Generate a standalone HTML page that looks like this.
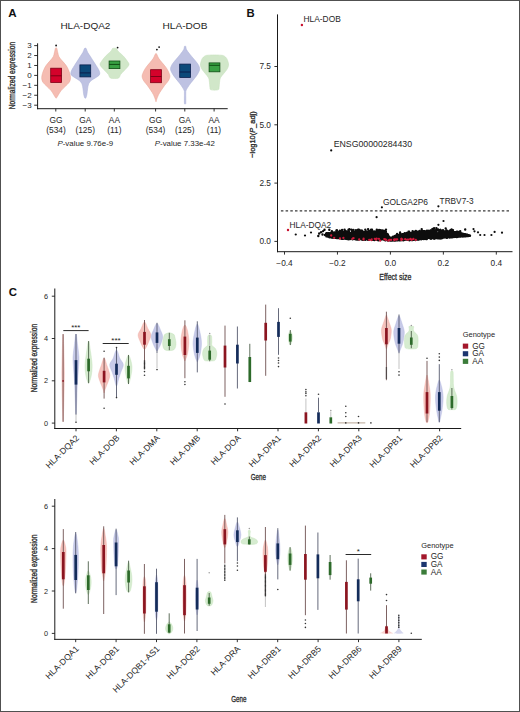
<!DOCTYPE html>
<html><head><meta charset="utf-8"><style>
html,body{margin:0;padding:0;background:#fff;}
body{width:520px;height:712px;overflow:hidden;}
svg{display:block;}
svg text{font-family:"Liberation Sans",sans-serif;}
</style></head><body>
<svg width="520" height="712" viewBox="0 0 520 712">
<rect x="0" y="0" width="520" height="712" fill="#fff"/>
<text x="8.20" y="16.60" font-size="11.6" fill="#111" font-weight="bold">A</text>
<text x="60.40" y="29.20" font-size="9.6" fill="#262626" textLength="50.00" lengthAdjust="spacingAndGlyphs">HLA-DQA2</text>
<text x="162.50" y="29.20" font-size="9.6" fill="#262626" textLength="45.00" lengthAdjust="spacingAndGlyphs">HLA-DOB</text>
<path d="M56.10,47.80 C56.37,47.80 56.62,47.80 56.90,48.60 C57.18,49.40 57.45,51.23 57.80,52.60 C58.15,53.97 58.23,55.38 59.00,56.80 C59.77,58.22 61.23,59.68 62.40,61.10 C63.57,62.52 65.02,63.90 66.00,65.30 C66.98,66.70 67.67,68.10 68.30,69.50 C68.93,70.90 69.43,72.30 69.80,73.70 C70.17,75.10 70.57,76.50 70.50,77.90 C70.43,79.30 70.25,80.70 69.40,82.10 C68.55,83.50 66.77,84.90 65.40,86.30 C64.03,87.70 62.37,89.08 61.20,90.50 C60.03,91.92 59.15,93.62 58.40,94.80 C57.65,95.98 57.08,97.02 56.70,97.60 C56.32,98.18 56.30,98.30 56.10,98.30 C55.90,98.30 55.88,98.18 55.50,97.60 C55.12,97.02 54.55,95.98 53.80,94.80 C53.05,93.62 52.17,91.92 51.00,90.50 C49.83,89.08 48.17,87.70 46.80,86.30 C45.43,84.90 43.65,83.50 42.80,82.10 C41.95,80.70 41.77,79.30 41.70,77.90 C41.63,76.50 42.03,75.10 42.40,73.70 C42.77,72.30 43.27,70.90 43.90,69.50 C44.53,68.10 45.22,66.70 46.20,65.30 C47.18,63.90 48.63,62.52 49.80,61.10 C50.97,59.68 52.43,58.22 53.20,56.80 C53.97,55.38 54.05,53.97 54.40,52.60 C54.75,51.23 55.02,49.40 55.30,48.60 C55.58,47.80 55.83,47.80 56.10,47.80Z" fill="#f5bcb2" stroke="#e9a293" stroke-width="0.5"/>
<path d="M85.30,48.00 C85.63,48.00 85.88,48.03 86.30,48.80 C86.72,49.57 87.08,51.27 87.80,52.60 C88.52,53.93 89.68,55.38 90.60,56.80 C91.52,58.22 92.40,59.68 93.30,61.10 C94.20,62.52 95.12,63.90 96.00,65.30 C96.88,66.70 97.97,68.23 98.60,69.50 C99.23,70.77 99.73,71.92 99.80,72.90 C99.87,73.88 99.73,74.57 99.00,75.40 C98.27,76.23 96.67,77.07 95.40,77.90 C94.13,78.73 92.52,79.42 91.40,80.40 C90.28,81.38 89.33,82.38 88.70,83.80 C88.07,85.22 87.88,87.22 87.60,88.90 C87.32,90.58 87.25,92.48 87.00,93.90 C86.75,95.32 86.38,96.67 86.10,97.40 C85.82,98.13 85.57,98.30 85.30,98.30 C85.03,98.30 84.78,98.13 84.50,97.40 C84.22,96.67 83.85,95.32 83.60,93.90 C83.35,92.48 83.28,90.58 83.00,88.90 C82.72,87.22 82.53,85.22 81.90,83.80 C81.27,82.38 80.32,81.38 79.20,80.40 C78.08,79.42 76.47,78.73 75.20,77.90 C73.93,77.07 72.33,76.23 71.60,75.40 C70.87,74.57 70.73,73.88 70.80,72.90 C70.87,71.92 71.37,70.77 72.00,69.50 C72.63,68.23 73.72,66.70 74.60,65.30 C75.48,63.90 76.40,62.52 77.30,61.10 C78.20,59.68 79.08,58.22 80.00,56.80 C80.92,55.38 82.08,53.93 82.80,52.60 C83.52,51.27 83.88,49.57 84.30,48.80 C84.72,48.03 84.97,48.00 85.30,48.00Z" fill="#bec2e2" stroke="#aab0d8" stroke-width="0.5"/>
<path d="M114.50,48.20 C115.17,48.20 115.93,48.03 116.50,48.50 C117.07,48.97 117.07,50.03 117.90,51.00 C118.73,51.97 120.48,53.33 121.50,54.30 C122.52,55.27 123.03,55.67 124.00,56.80 C124.97,57.93 126.47,59.83 127.30,61.10 C128.13,62.37 129.07,63.28 129.00,64.40 C128.93,65.52 127.80,66.67 126.90,67.80 C126.00,68.93 124.65,70.08 123.60,71.20 C122.55,72.32 121.28,73.52 120.60,74.50 C119.92,75.48 119.93,76.48 119.50,77.10 C119.07,77.72 118.83,77.97 118.00,78.20 C117.17,78.43 115.67,78.50 114.50,78.50 C113.33,78.50 111.83,78.43 111.00,78.20 C110.17,77.97 109.93,77.72 109.50,77.10 C109.07,76.48 109.08,75.48 108.40,74.50 C107.72,73.52 106.45,72.32 105.40,71.20 C104.35,70.08 103.00,68.93 102.10,67.80 C101.20,66.67 100.07,65.52 100.00,64.40 C99.93,63.28 100.87,62.37 101.70,61.10 C102.53,59.83 104.03,57.93 105.00,56.80 C105.97,55.67 106.48,55.27 107.50,54.30 C108.52,53.33 110.27,51.97 111.10,51.00 C111.93,50.03 111.93,48.97 112.50,48.50 C113.07,48.03 113.83,48.20 114.50,48.20Z" fill="#d1e7c9" stroke="#c2dfb8" stroke-width="0.5"/>
<path d="M156.00,53.40 C156.30,53.40 156.45,53.68 156.90,54.50 C157.35,55.32 157.82,56.92 158.70,58.30 C159.58,59.68 160.98,61.28 162.20,62.80 C163.42,64.32 164.93,65.87 166.00,67.40 C167.07,68.93 167.95,70.48 168.60,72.00 C169.25,73.52 169.98,74.98 169.90,76.50 C169.82,78.02 169.02,79.57 168.10,81.10 C167.18,82.63 165.53,84.18 164.40,85.70 C163.27,87.22 162.28,88.68 161.30,90.20 C160.32,91.72 159.27,93.27 158.50,94.80 C157.73,96.33 157.12,98.23 156.70,99.40 C156.28,100.57 156.23,101.80 156.00,101.80 C155.77,101.80 155.72,100.57 155.30,99.40 C154.88,98.23 154.27,96.33 153.50,94.80 C152.73,93.27 151.68,91.72 150.70,90.20 C149.72,88.68 148.73,87.22 147.60,85.70 C146.47,84.18 144.82,82.63 143.90,81.10 C142.98,79.57 142.18,78.02 142.10,76.50 C142.02,74.98 142.75,73.52 143.40,72.00 C144.05,70.48 144.93,68.93 146.00,67.40 C147.07,65.87 148.58,64.32 149.80,62.80 C151.02,61.28 152.42,59.68 153.30,58.30 C154.18,56.92 154.65,55.32 155.10,54.50 C155.55,53.68 155.70,53.40 156.00,53.40Z" fill="#f5bcb2" stroke="#e9a293" stroke-width="0.5"/>
<path d="M185.10,45.90 C185.37,45.90 185.67,46.18 185.90,46.80 C186.13,47.42 185.83,48.35 186.50,49.60 C187.17,50.85 188.67,52.72 189.90,54.30 C191.13,55.88 192.58,57.50 193.90,59.10 C195.22,60.70 196.83,62.30 197.80,63.90 C198.77,65.50 199.67,67.12 199.70,68.70 C199.73,70.28 198.83,71.82 198.00,73.40 C197.17,74.98 195.90,76.60 194.70,78.20 C193.50,79.80 192.00,81.40 190.80,83.00 C189.60,84.60 188.28,86.53 187.50,87.80 C186.72,89.07 186.38,89.73 186.10,90.60 C185.82,91.47 185.85,90.93 185.80,93.00 C185.75,95.07 185.92,101.20 185.80,103.00 C185.68,104.80 185.33,103.80 185.10,103.80 C184.87,103.80 184.52,104.80 184.40,103.00 C184.28,101.20 184.45,95.07 184.40,93.00 C184.35,90.93 184.38,91.47 184.10,90.60 C183.82,89.73 183.48,89.07 182.70,87.80 C181.92,86.53 180.60,84.60 179.40,83.00 C178.20,81.40 176.70,79.80 175.50,78.20 C174.30,76.60 173.03,74.98 172.20,73.40 C171.37,71.82 170.47,70.28 170.50,68.70 C170.53,67.12 171.43,65.50 172.40,63.90 C173.37,62.30 174.98,60.70 176.30,59.10 C177.62,57.50 179.07,55.88 180.30,54.30 C181.53,52.72 183.03,50.85 183.70,49.60 C184.37,48.35 184.07,47.42 184.30,46.80 C184.53,46.18 184.83,45.90 185.10,45.90Z" fill="#bec2e2" stroke="#aab0d8" stroke-width="0.5"/>
<path d="M214.50,54.90 C216.67,54.90 219.40,55.03 221.00,55.20 C222.60,55.37 223.15,55.37 224.10,55.90 C225.05,56.43 226.08,57.53 226.70,58.40 C227.32,59.27 227.48,59.95 227.80,61.10 C228.12,62.25 228.75,63.90 228.60,65.30 C228.45,66.70 227.73,68.10 226.90,69.50 C226.07,70.90 224.68,72.30 223.60,73.70 C222.52,75.10 221.07,76.50 220.40,77.90 C219.73,79.30 219.82,80.55 219.60,82.10 C219.38,83.65 219.28,85.95 219.10,87.20 C218.92,88.45 219.27,89.10 218.50,89.60 C217.73,90.10 215.83,90.20 214.50,90.20 C213.17,90.20 211.27,90.10 210.50,89.60 C209.73,89.10 210.08,88.45 209.90,87.20 C209.72,85.95 209.62,83.65 209.40,82.10 C209.18,80.55 209.27,79.30 208.60,77.90 C207.93,76.50 206.48,75.10 205.40,73.70 C204.32,72.30 202.93,70.90 202.10,69.50 C201.27,68.10 200.55,66.70 200.40,65.30 C200.25,63.90 200.88,62.25 201.20,61.10 C201.52,59.95 201.68,59.27 202.30,58.40 C202.92,57.53 203.95,56.43 204.90,55.90 C205.85,55.37 206.40,55.37 208.00,55.20 C209.60,55.03 212.33,54.90 214.50,54.90Z" fill="#d1e7c9" stroke="#c2dfb8" stroke-width="0.5"/>
<rect x="50.70" y="68.20" width="10.80" height="14.30" fill="#d4022b" stroke="#7d0015" stroke-width="0.8"/>
<line x1="50.70" y1="75.80" x2="61.50" y2="75.80" stroke="#7d0015" stroke-width="1.0"/>
<circle cx="56.10" cy="45.50" r="0.90" fill="#111"/>
<rect x="79.90" y="64.90" width="10.80" height="12.00" fill="#0b4979" stroke="#0b1f4c" stroke-width="0.8"/>
<line x1="79.90" y1="72.90" x2="90.70" y2="72.90" stroke="#0b1f4c" stroke-width="1.0"/>
<rect x="109.10" y="61.00" width="10.80" height="7.60" fill="#38a043" stroke="#0e4b13" stroke-width="0.8"/>
<line x1="109.10" y1="64.40" x2="119.90" y2="64.40" stroke="#0e4b13" stroke-width="1.0"/>
<circle cx="117.60" cy="47.60" r="0.90" fill="#111"/>
<rect x="150.60" y="69.70" width="10.80" height="13.00" fill="#d4022b" stroke="#7d0015" stroke-width="0.8"/>
<line x1="150.60" y1="76.50" x2="161.40" y2="76.50" stroke="#7d0015" stroke-width="1.0"/>
<circle cx="156.90" cy="49.60" r="0.90" fill="#111"/>
<circle cx="159.10" cy="47.10" r="0.90" fill="#111"/>
<rect x="179.70" y="64.10" width="10.80" height="13.30" fill="#0b4979" stroke="#0b1f4c" stroke-width="0.8"/>
<line x1="179.70" y1="72.00" x2="190.50" y2="72.00" stroke="#0b1f4c" stroke-width="1.0"/>
<rect x="209.10" y="62.90" width="10.80" height="8.90" fill="#38a043" stroke="#0e4b13" stroke-width="0.8"/>
<line x1="209.10" y1="65.30" x2="219.90" y2="65.30" stroke="#0e4b13" stroke-width="1.0"/>
<line x1="37.60" y1="43.30" x2="37.60" y2="109.20" stroke="#1a1a1a" stroke-width="1.0"/>
<line x1="37.10" y1="108.70" x2="227.70" y2="108.70" stroke="#1a1a1a" stroke-width="1.0"/>
<line x1="34.20" y1="45.61" x2="37.60" y2="45.61" stroke="#1a1a1a" stroke-width="0.9"/>
<text x="31.60" y="48.46" font-size="8" fill="#262626" text-anchor="end">3</text>
<line x1="34.20" y1="55.54" x2="37.60" y2="55.54" stroke="#1a1a1a" stroke-width="0.9"/>
<text x="31.60" y="58.39" font-size="8" fill="#262626" text-anchor="end">2</text>
<line x1="34.20" y1="65.47" x2="37.60" y2="65.47" stroke="#1a1a1a" stroke-width="0.9"/>
<text x="31.60" y="68.32" font-size="8" fill="#262626" text-anchor="end">1</text>
<line x1="34.20" y1="75.40" x2="37.60" y2="75.40" stroke="#1a1a1a" stroke-width="0.9"/>
<text x="31.60" y="78.25" font-size="8" fill="#262626" text-anchor="end">0</text>
<line x1="34.20" y1="85.33" x2="37.60" y2="85.33" stroke="#1a1a1a" stroke-width="0.9"/>
<text x="31.60" y="88.18" font-size="8" fill="#262626" text-anchor="end">−1</text>
<line x1="34.20" y1="95.26" x2="37.60" y2="95.26" stroke="#1a1a1a" stroke-width="0.9"/>
<text x="31.60" y="98.11" font-size="8" fill="#262626" text-anchor="end">−2</text>
<line x1="34.20" y1="105.19" x2="37.60" y2="105.19" stroke="#1a1a1a" stroke-width="0.9"/>
<text x="31.60" y="108.04" font-size="8" fill="#262626" text-anchor="end">−3</text>
<line x1="55.80" y1="108.70" x2="55.80" y2="111.50" stroke="#1a1a1a" stroke-width="0.9"/>
<line x1="85.20" y1="108.70" x2="85.20" y2="111.50" stroke="#1a1a1a" stroke-width="0.9"/>
<line x1="114.30" y1="108.70" x2="114.30" y2="111.50" stroke="#1a1a1a" stroke-width="0.9"/>
<line x1="155.60" y1="108.70" x2="155.60" y2="111.50" stroke="#1a1a1a" stroke-width="0.9"/>
<line x1="184.80" y1="108.70" x2="184.80" y2="111.50" stroke="#1a1a1a" stroke-width="0.9"/>
<line x1="214.10" y1="108.70" x2="214.10" y2="111.50" stroke="#1a1a1a" stroke-width="0.9"/>
<text x="56.00" y="122.70" font-size="8.4" fill="#262626" text-anchor="middle">GG</text>
<text x="56.00" y="133.30" font-size="8.4" fill="#262626" text-anchor="middle">(534)</text>
<text x="85.20" y="122.70" font-size="8.4" fill="#262626" text-anchor="middle">GA</text>
<text x="85.20" y="133.30" font-size="8.4" fill="#262626" text-anchor="middle">(125)</text>
<text x="114.40" y="122.70" font-size="8.4" fill="#262626" text-anchor="middle">AA</text>
<text x="114.40" y="133.30" font-size="8.4" fill="#262626" text-anchor="middle">(11)</text>
<text x="155.60" y="122.70" font-size="8.4" fill="#262626" text-anchor="middle">GG</text>
<text x="155.60" y="133.30" font-size="8.4" fill="#262626" text-anchor="middle">(534)</text>
<text x="184.80" y="122.70" font-size="8.4" fill="#262626" text-anchor="middle">GA</text>
<text x="184.80" y="133.30" font-size="8.4" fill="#262626" text-anchor="middle">(125)</text>
<text x="214.00" y="122.70" font-size="8.4" fill="#262626" text-anchor="middle">AA</text>
<text x="214.00" y="133.30" font-size="8.4" fill="#262626" text-anchor="middle">(11)</text>
<text x="85.3" y="145.6" font-size="7.9" text-anchor="middle" fill="#262626"><tspan font-style="italic">P</tspan>-value 9.76e-9</text>
<text x="184.8" y="145.6" font-size="7.9" text-anchor="middle" fill="#262626"><tspan font-style="italic">P</tspan>-value 7.33e-42</text>
<text x="15.20" y="75.60" font-size="9.0" fill="#262626" text-anchor="middle" textLength="67.50" lengthAdjust="spacingAndGlyphs" transform="rotate(-90 15.20 75.60)" stroke="#333" stroke-width="0.35">Normalized expression</text>
<text x="246.60" y="16.90" font-size="11.3" fill="#111" font-weight="bold">B</text>
<line x1="277.50" y1="14.40" x2="277.50" y2="252.20" stroke="#1a1a1a" stroke-width="1.0"/>
<line x1="277.00" y1="251.70" x2="512.50" y2="251.70" stroke="#1a1a1a" stroke-width="1.0"/>
<line x1="274.40" y1="241.40" x2="277.50" y2="241.40" stroke="#1a1a1a" stroke-width="0.9"/>
<text x="271.00" y="244.35" font-size="8.3" fill="#262626" text-anchor="end">0.0</text>
<line x1="274.40" y1="183.10" x2="277.50" y2="183.10" stroke="#1a1a1a" stroke-width="0.9"/>
<text x="271.00" y="186.05" font-size="8.3" fill="#262626" text-anchor="end">2.5</text>
<line x1="274.40" y1="124.80" x2="277.50" y2="124.80" stroke="#1a1a1a" stroke-width="0.9"/>
<text x="271.00" y="127.75" font-size="8.3" fill="#262626" text-anchor="end">5.0</text>
<line x1="274.40" y1="66.50" x2="277.50" y2="66.50" stroke="#1a1a1a" stroke-width="0.9"/>
<text x="271.00" y="69.45" font-size="8.3" fill="#262626" text-anchor="end">7.5</text>
<line x1="284.50" y1="251.70" x2="284.50" y2="254.60" stroke="#1a1a1a" stroke-width="0.9"/>
<text x="284.50" y="265.90" font-size="8.3" fill="#262626" text-anchor="middle">−0.4</text>
<line x1="337.45" y1="251.70" x2="337.45" y2="254.60" stroke="#1a1a1a" stroke-width="0.9"/>
<text x="337.45" y="265.90" font-size="8.3" fill="#262626" text-anchor="middle">−0.2</text>
<line x1="390.40" y1="251.70" x2="390.40" y2="254.60" stroke="#1a1a1a" stroke-width="0.9"/>
<text x="390.40" y="265.90" font-size="8.3" fill="#262626" text-anchor="middle">0.0</text>
<line x1="443.35" y1="251.70" x2="443.35" y2="254.60" stroke="#1a1a1a" stroke-width="0.9"/>
<text x="443.35" y="265.90" font-size="8.3" fill="#262626" text-anchor="middle">0.2</text>
<line x1="496.30" y1="251.70" x2="496.30" y2="254.60" stroke="#1a1a1a" stroke-width="0.9"/>
<text x="496.30" y="265.90" font-size="8.3" fill="#262626" text-anchor="middle">0.4</text>
<text x="395.30" y="279.80" font-size="9.8" fill="#262626" text-anchor="middle" textLength="32.00" lengthAdjust="spacingAndGlyphs" stroke="#333" stroke-width="0.35">Effect size</text>
<text x="255.0" y="134.6" font-size="8.0" text-anchor="middle" fill="#262626" transform="rotate(-90 255.0 134.6)" textLength="46.5" lengthAdjust="spacingAndGlyphs" stroke="#333" stroke-width="0.35">−log10(<tspan font-style="italic">P</tspan>_adj)</text>
<line x1="280.90" y1="210.90" x2="511.00" y2="210.90" stroke="#3a3a3a" stroke-width="1.4" stroke-dasharray="2.5,2.2"/>
<path d="M391.1 238.7h0M459.1 234.8h0M399.1 236.9h0M352.6 235.0h0M416.7 233.4h0M339.6 236.4h0M339.1 233.1h0M425.9 238.9h0M467.4 234.9h0M420.2 234.3h0M348.7 239.2h0M402.1 240.0h0M353.4 237.2h0M330.3 235.2h0M389.4 237.3h0M400.8 236.4h0M398.0 236.7h0M391.9 239.5h0M469.7 235.5h0M447.0 232.7h0M371.4 237.7h0M367.6 239.2h0M436.3 234.9h0M447.9 235.0h0M464.0 234.3h0M326.1 235.3h0M457.1 234.7h0M467.2 235.6h0M336.5 234.3h0M438.1 236.0h0M338.5 236.1h0M464.8 234.7h0M343.0 236.9h0M340.6 238.2h0M440.8 236.7h0M406.5 237.1h0M353.5 233.3h0M344.9 234.1h0M342.8 235.7h0M356.7 237.1h0M465.8 234.8h0M369.8 232.2h0M356.3 236.0h0M449.0 233.2h0M340.4 232.0h0M356.7 237.2h0M437.3 235.5h0M368.7 239.2h0M339.0 234.5h0M361.0 234.3h0M379.5 236.0h0M464.1 235.2h0M408.7 234.1h0M352.3 238.0h0M456.8 233.0h0M361.9 237.9h0M432.5 230.7h0M354.3 231.7h0M453.0 233.8h0M386.7 239.6h0M331.6 232.7h0M360.3 233.5h0M363.0 232.5h0M411.9 237.8h0M351.3 233.5h0M335.9 236.7h0M406.5 234.4h0M414.5 237.6h0M458.1 236.0h0M328.4 235.7h0M390.2 240.4h0M351.4 236.2h0M408.4 239.3h0M378.1 232.2h0M467.2 235.2h0M425.5 234.1h0M346.2 238.9h0M328.6 233.3h0M426.9 231.0h0M329.1 234.3h0M395.4 237.0h0M371.9 231.3h0M336.8 234.8h0M432.1 231.1h0M432.1 232.6h0M440.2 230.5h0M376.7 233.9h0M455.7 232.6h0M386.1 234.1h0M450.3 233.8h0M416.0 236.6h0M409.9 235.7h0M337.5 234.2h0M469.0 235.4h0M430.9 235.3h0M431.8 233.7h0M389.4 237.3h0M338.1 233.5h0M330.3 234.5h0M395.3 239.4h0M426.6 234.7h0M414.5 232.8h0M362.8 239.7h0M369.3 233.8h0M355.2 237.9h0M456.4 233.7h0M389.6 237.4h0M373.1 234.0h0M354.6 235.7h0M442.1 230.7h0M452.8 235.1h0M410.0 237.8h0M345.6 235.2h0M446.5 231.6h0M428.4 230.9h0M365.9 238.2h0M390.9 239.6h0M356.8 235.8h0M416.1 235.8h0M371.4 232.5h0M467.4 235.5h0M336.8 238.1h0M451.7 237.4h0M428.0 234.0h0M370.5 232.9h0M328.8 236.4h0M391.5 240.6h0M445.5 236.1h0M346.3 238.8h0M416.6 236.1h0M416.7 234.4h0M442.3 230.4h0M424.6 237.5h0M394.4 239.7h0M327.6 234.8h0M428.8 237.3h0M365.2 236.6h0M426.4 234.6h0M414.5 234.0h0M382.7 233.2h0M456.5 236.7h0M460.3 234.0h0M344.7 235.5h0M416.1 232.6h0M380.3 235.0h0M452.6 232.6h0M462.0 235.1h0M419.8 237.8h0M430.0 231.8h0M418.4 233.7h0M356.7 232.0h0M467.2 234.8h0M403.3 235.2h0M372.1 232.0h0M449.2 235.3h0M337.9 235.4h0M405.2 235.1h0M396.2 240.4h0M442.5 237.7h0M441.2 236.7h0M374.2 233.0h0M346.2 237.9h0M400.4 235.9h0M447.0 232.8h0M462.2 235.0h0M462.7 236.3h0M357.9 234.9h0M367.8 233.4h0M418.0 235.3h0M447.5 233.7h0M370.9 236.4h0M447.7 231.4h0M356.0 232.4h0M465.5 235.2h0M408.5 238.7h0M403.2 237.0h0M413.2 239.9h0M465.6 235.2h0M383.7 233.1h0M407.1 236.7h0M425.5 238.7h0M403.6 237.5h0M463.8 234.1h0M364.8 235.5h0M344.3 235.6h0M443.5 230.9h0M394.6 239.0h0M353.6 234.2h0M459.2 236.3h0M438.2 238.4h0M354.0 237.4h0M424.9 236.4h0M377.2 234.5h0M341.1 233.6h0M343.7 235.0h0M362.1 237.8h0M402.4 237.5h0M380.1 236.3h0M402.2 239.3h0M355.4 234.1h0M417.9 235.3h0M448.6 233.4h0M449.4 236.1h0M432.7 231.7h0M456.0 235.5h0M371.4 231.9h0M357.4 231.2h0M453.8 236.6h0M360.5 233.3h0M363.4 238.8h0M445.8 234.7h0M439.8 237.2h0M384.0 234.1h0M328.6 236.1h0M424.3 231.6h0M465.4 236.1h0M398.8 236.0h0M398.4 236.5h0M353.2 238.8h0M341.3 238.5h0M405.4 236.7h0M407.9 239.2h0M352.6 237.6h0M447.0 230.7h0M459.5 236.5h0M334.9 232.5h0M392.5 237.7h0M373.1 235.7h0M400.2 237.7h0M412.5 240.1h0M426.9 231.9h0M352.1 235.5h0M432.5 235.1h0M354.1 237.9h0M399.8 240.4h0M454.6 232.8h0M427.5 231.7h0M416.6 236.4h0M412.3 236.1h0M467.5 235.1h0M363.2 231.8h0M433.2 232.0h0M443.3 234.7h0M455.1 232.5h0M426.1 232.6h0M436.2 234.9h0M430.1 238.3h0M375.2 235.7h0M327.5 235.2h0M418.0 234.5h0M359.4 231.6h0M421.9 236.5h0M421.0 234.6h0M402.8 237.7h0M470.0 235.7h0M427.0 232.5h0M467.1 236.1h0M414.6 234.1h0M363.0 236.0h0M333.3 236.7h0M380.1 239.3h0M362.1 231.9h0M405.2 236.8h0M465.3 235.1h0M469.3 235.6h0M442.6 237.6h0M412.0 234.3h0M332.5 232.8h0M349.0 235.3h0M350.4 235.2h0M414.0 239.5h0M462.1 235.2h0M401.9 236.5h0M378.6 237.4h0M420.3 234.7h0M366.8 233.5h0M368.6 239.8h0M361.3 239.3h0M348.5 233.2h0M382.2 232.3h0M433.8 238.3h0M468.4 235.2h0M336.6 232.7h0M387.9 237.4h0M466.1 235.8h0M401.4 234.6h0M430.1 234.7h0M467.0 235.0h0M412.9 239.1h0M415.9 236.1h0M355.3 239.0h0M402.0 239.5h0M389.8 238.3h0M391.6 239.6h0M409.8 237.0h0M438.0 233.7h0M469.7 235.5h0M431.7 236.6h0M342.4 232.5h0M438.9 232.9h0M377.7 237.5h0M424.6 234.3h0M411.2 235.3h0M434.5 236.9h0M361.9 231.3h0M457.9 232.9h0M331.7 237.4h0M365.0 235.9h0M415.8 239.0h0M404.0 239.9h0M338.4 234.0h0M405.3 236.0h0M379.7 235.7h0M356.3 236.4h0M433.3 231.5h0M336.7 237.4h0M442.5 233.0h0M436.7 236.6h0M387.1 238.5h0M442.6 235.0h0M420.1 231.4h0M372.9 235.0h0M433.4 230.8h0M387.6 238.0h0M340.0 232.7h0M337.3 237.8h0M407.2 236.8h0M424.7 236.6h0M437.7 237.8h0M356.7 233.8h0M337.8 236.3h0M430.4 232.8h0M366.7 238.5h0M377.5 233.6h0M378.8 239.0h0M428.1 234.0h0M458.3 232.7h0M457.5 234.9h0M441.6 235.6h0M371.7 236.2h0M460.6 233.4h0M361.8 236.4h0M378.6 236.7h0M383.0 236.6h0M354.1 234.6h0M440.8 233.6h0M446.4 233.7h0M351.4 233.2h0M452.8 235.7h0M329.2 234.8h0M404.4 236.5h0M465.2 234.9h0M441.8 237.7h0M404.7 235.0h0M338.1 237.8h0M432.1 231.1h0M338.2 234.2h0M346.7 233.3h0M419.5 237.4h0M357.7 233.0h0M401.1 235.6h0M382.8 237.1h0M465.4 234.9h0M397.1 237.6h0M429.8 232.7h0M457.8 235.0h0M445.0 232.8h0M448.9 232.1h0M446.1 231.3h0M463.9 234.8h0M401.4 235.9h0M441.5 234.6h0M386.5 239.2h0M432.7 230.3h0M380.1 238.6h0M355.4 235.7h0M368.1 231.4h0M334.5 236.1h0M342.5 234.1h0M437.7 236.8h0M335.0 235.3h0M410.1 233.6h0M331.2 237.1h0M352.6 237.4h0M359.9 233.4h0M411.6 238.3h0M352.6 236.9h0M350.8 233.2h0M370.9 234.9h0M443.7 234.2h0M363.5 232.0h0M457.7 235.3h0M404.8 234.0h0M395.5 239.4h0M333.2 232.7h0M441.4 234.9h0M402.0 237.0h0M365.5 231.3h0M420.7 237.4h0M327.6 234.8h0M379.5 233.0h0M428.7 233.7h0M348.6 237.9h0M372.3 237.5h0M451.2 234.2h0M417.7 231.7h0M364.4 234.9h0M347.7 233.1h0M326.2 233.9h0M447.9 231.9h0M337.9 236.5h0M429.2 238.1h0M395.1 238.3h0M463.6 234.9h0M449.5 235.6h0M439.7 234.6h0M458.0 236.6h0M445.0 236.4h0M404.2 236.7h0M348.7 232.7h0M370.8 237.0h0M336.9 236.2h0M393.3 237.7h0M377.8 233.9h0M341.2 235.8h0M392.5 237.0h0M445.5 232.9h0M327.8 235.2h0M428.2 236.8h0M407.2 236.9h0M327.5 233.2h0M441.1 236.4h0M414.7 237.5h0M380.1 235.2h0M368.9 236.7h0M382.5 234.2h0M362.9 237.8h0M431.3 235.8h0M462.1 234.8h0M430.2 235.9h0M445.1 237.4h0M346.3 238.3h0M423.6 233.3h0M351.9 235.9h0M446.5 233.4h0M339.0 236.9h0M348.6 238.1h0M384.6 239.7h0M458.6 235.0h0M399.7 236.5h0M436.4 231.4h0M381.6 237.1h0M385.3 240.3h0M383.7 234.0h0M467.4 235.1h0M421.1 234.3h0M328.7 235.5h0M375.3 234.2h0M341.3 235.9h0M399.3 235.7h0M444.8 233.2h0M348.8 233.2h0M456.0 234.3h0M376.8 235.5h0M346.4 233.6h0M468.1 235.5h0M429.0 231.8h0M354.4 231.7h0M416.3 238.1h0M338.0 236.7h0M409.0 235.2h0M373.4 231.8h0M378.0 235.8h0M343.9 231.9h0M345.5 232.2h0M404.3 236.5h0M406.7 238.3h0M456.9 232.3h0M443.7 233.2h0M343.7 232.9h0M367.6 232.0h0M360.7 234.5h0M445.6 236.5h0M404.9 239.8h0M330.6 236.6h0M468.1 235.1h0M420.8 236.8h0M422.7 233.1h0M381.0 234.8h0M441.7 238.2h0M354.7 235.4h0M346.6 236.0h0M408.0 239.0h0M400.8 238.7h0M407.8 237.8h0M418.4 239.5h0M422.6 238.1h0M464.1 234.9h0M393.7 238.8h0M415.8 234.3h0M435.2 232.1h0M396.0 235.6h0M446.7 231.6h0M384.9 236.3h0M407.5 234.0h0M401.7 237.0h0M388.2 235.4h0M372.2 239.5h0M430.5 231.2h0M431.4 233.5h0M434.3 235.9h0M411.5 239.6h0M343.9 235.5h0M398.4 238.1h0M333.5 234.0h0M401.8 238.8h0M370.1 236.2h0M360.0 239.0h0M457.2 232.4h0M421.9 232.2h0M386.7 234.5h0M357.9 233.1h0M407.6 234.0h0M340.2 233.2h0M343.8 234.8h0M462.9 236.6h0M361.1 236.9h0M372.8 239.4h0M454.9 232.8h0M383.2 236.9h0M410.3 239.9h0M330.5 233.0h0M370.3 235.4h0M460.5 233.1h0M394.1 239.6h0M368.5 231.8h0M455.1 236.2h0M446.7 235.2h0M394.0 239.8h0M452.7 231.5h0M355.1 234.1h0M353.6 232.2h0M333.2 237.3h0M430.5 236.0h0M455.6 232.6h0M428.7 237.8h0M426.2 231.2h0M390.1 240.4h0M358.1 236.8h0M428.3 237.2h0M352.1 237.3h0M421.7 232.8h0M379.6 234.2h0M453.4 233.9h0M359.0 236.8h0M459.5 234.1h0M365.9 234.1h0M339.0 232.1h0M389.4 238.4h0M402.4 240.1h0M412.4 237.8h0M362.1 232.7h0M338.6 236.4h0M434.8 236.4h0M366.2 234.9h0M352.8 232.1h0M468.2 236.0h0M392.5 237.8h0M381.4 232.0h0M398.0 239.4h0M406.1 235.8h0M377.8 234.2h0M438.8 233.8h0M398.8 235.6h0M424.5 234.7h0M463.0 236.0h0M438.3 236.9h0M413.6 238.1h0M389.4 237.5h0M439.3 231.5h0M360.0 235.2h0M357.9 234.5h0M397.9 240.3h0M411.9 234.7h0M408.5 234.0h0M351.9 238.0h0M328.6 234.9h0M388.6 238.1h0M363.9 232.8h0M336.4 232.7h0M407.9 236.3h0M440.0 236.1h0M347.1 236.6h0M332.1 236.0h0M415.5 235.6h0M364.1 234.5h0M338.7 233.1h0M350.7 237.1h0M349.0 233.7h0M445.7 232.0h0M334.8 235.5h0M378.5 238.1h0M465.8 236.2h0M396.5 236.6h0M468.0 235.9h0M391.6 238.0h0M331.6 236.4h0M454.2 236.6h0M382.6 237.4h0M387.1 239.9h0M330.9 232.6h0M435.9 232.2h0M359.1 237.3h0M405.5 238.6h0M392.5 237.2h0M378.4 237.0h0M467.3 235.3h0M331.7 235.5h0M419.6 239.2h0M375.4 233.8h0M450.5 233.7h0M453.6 234.6h0M382.6 232.7h0M380.9 233.2h0M357.0 236.4h0M352.4 234.7h0M349.6 237.5h0M356.9 235.4h0M370.4 235.8h0M469.0 235.5h0M450.2 236.3h0M381.1 239.6h0M425.6 236.0h0M365.5 239.7h0M352.2 237.1h0M382.6 232.1h0M429.0 236.5h0M378.0 238.6h0M460.9 235.4h0M436.3 232.2h0M456.6 237.1h0M372.4 236.4h0M338.0 232.8h0M372.8 233.1h0M400.8 240.1h0M382.7 238.0h0M331.9 236.9h0M411.7 240.0h0M371.0 236.0h0M404.3 239.4h0M427.8 236.7h0M430.5 233.0h0M347.2 237.4h0M366.4 233.5h0M384.4 236.7h0M450.7 236.1h0M368.1 236.6h0M357.1 239.2h0M329.5 234.3h0M407.5 234.6h0M466.5 235.7h0M422.6 231.7h0M357.1 233.6h0M422.0 231.5h0M451.0 236.1h0M417.1 239.0h0M387.6 237.8h0M334.7 235.7h0M373.3 235.4h0M366.3 238.3h0M384.0 235.9h0M350.0 233.9h0M360.5 238.8h0M375.2 236.1h0M347.7 234.5h0M427.0 234.2h0M426.8 239.0h0M382.4 236.8h0M335.1 235.6h0M333.9 235.0h0M410.4 236.6h0M372.9 237.6h0M329.4 235.6h0M454.4 234.1h0M363.7 233.8h0M352.8 235.4h0M414.6 232.5h0M378.2 234.9h0M461.7 234.1h0M416.3 234.7h0M385.2 236.5h0M365.8 232.5h0M452.7 235.1h0M457.0 237.0h0M345.6 235.1h0M370.4 236.6h0M466.7 235.9h0M353.7 237.4h0M423.9 237.2h0M326.1 234.5h0M382.7 238.0h0M397.1 237.0h0M404.9 236.0h0M406.8 234.5h0M465.5 235.6h0M375.9 232.2h0M371.1 233.5h0M426.1 233.2h0M464.8 234.5h0M349.0 234.2h0M396.7 237.5h0M379.2 237.4h0M433.9 233.9h0M360.1 237.3h0M372.8 238.3h0M400.0 239.6h0M335.1 237.7h0M340.7 233.7h0M342.2 235.4h0M437.2 234.2h0M349.4 232.4h0M451.3 237.4h0M362.6 235.1h0M440.7 234.8h0M429.1 236.7h0M429.1 236.0h0M374.1 233.2h0M447.4 231.8h0M407.7 237.2h0M427.8 233.6h0M445.7 231.9h0M344.0 236.0h0M422.4 237.3h0M352.6 239.3h0M410.3 233.3h0M465.7 236.0h0M425.0 235.5h0M416.9 236.4h0M460.4 233.1h0M333.0 233.9h0M343.0 238.6h0M367.2 233.4h0M469.1 235.8h0M373.5 239.8h0M404.1 237.0h0M379.8 237.2h0M441.3 231.2h0M366.9 236.2h0M415.0 233.9h0M467.3 235.6h0M425.9 234.4h0M441.2 237.0h0M351.2 238.4h0M460.4 235.8h0M396.3 239.8h0M372.6 239.9h0M407.5 239.2h0M416.0 237.5h0M358.8 235.3h0M378.7 237.7h0M333.4 237.6h0M454.5 235.5h0M337.3 237.1h0M395.6 235.8h0M355.1 232.3h0M395.7 238.4h0M442.2 234.8h0M334.3 234.7h0M420.6 234.2h0M365.9 231.7h0M450.5 231.1h0M389.8 237.8h0M430.4 237.3h0M329.9 236.6h0M343.1 238.3h0M377.7 233.4h0M370.6 235.2h0M327.5 235.7h0M464.1 236.4h0M401.9 235.2h0M440.1 231.9h0M383.5 233.1h0M445.2 232.1h0M468.0 235.9h0M462.9 235.3h0M427.6 236.8h0M457.0 237.1h0M409.1 238.5h0M381.9 236.8h0M420.6 232.7h0M378.5 234.3h0M377.0 237.4h0M456.3 235.4h0M339.6 236.2h0M432.8 236.8h0M433.0 233.9h0M424.0 237.7h0M341.2 237.6h0M376.4 236.1h0M327.4 234.7h0M384.1 237.3h0M403.3 234.2h0M355.5 232.2h0M372.2 233.3h0M341.6 231.9h0M387.9 234.6h0M357.6 235.9h0M427.7 237.4h0M365.4 233.8h0M462.5 235.5h0M352.4 236.3h0M468.5 235.8h0M417.4 236.5h0M418.7 237.8h0M414.7 233.0h0M449.3 233.3h0M398.7 237.1h0M342.4 232.8h0M425.3 235.2h0M421.8 235.8h0M381.4 238.0h0M412.5 235.6h0M400.2 240.3h0M416.3 236.1h0M411.4 235.6h0M460.2 236.2h0M393.5 236.6h0M432.3 235.9h0M432.1 230.4h0M383.9 232.6h0M344.2 231.7h0M396.7 239.2h0M447.0 233.1h0M461.0 233.7h0M440.9 233.8h0M469.1 235.9h0M451.3 233.0h0M362.1 232.7h0M391.4 238.7h0M450.6 236.4h0M366.3 234.1h0M336.6 234.7h0M439.3 234.0h0M360.8 232.7h0M449.1 232.4h0M405.1 234.3h0M440.7 236.9h0M378.7 239.2h0M331.3 235.8h0M450.5 232.1h0M342.9 237.4h0M382.0 232.7h0M414.9 232.9h0M336.4 232.2h0M355.8 234.1h0M452.2 233.0h0M354.4 233.8h0M388.0 240.5h0M374.9 237.0h0M416.7 237.4h0M412.8 234.7h0M352.0 238.2h0M425.9 235.0h0M344.6 238.1h0M461.5 234.5h0M377.5 238.2h0M469.3 235.5h0M432.0 235.5h0M370.7 236.1h0M347.1 234.2h0M387.2 234.8h0M384.9 236.1h0M398.9 235.0h0M375.9 233.7h0M359.8 234.5h0M367.0 232.2h0M367.3 232.4h0M423.4 235.3h0M460.5 235.2h0M433.0 233.4h0M390.6 240.4h0M386.4 238.1h0M389.5 237.0h0M368.2 233.7h0M422.8 237.2h0M385.3 239.1h0M454.9 235.9h0M386.6 237.7h0M444.2 231.4h0M411.1 236.0h0M340.3 232.6h0M338.7 235.9h0M379.9 233.7h0M422.4 236.4h0M455.3 232.2h0M329.3 234.3h0M393.6 239.0h0M392.9 239.3h0M422.6 234.2h0M465.7 234.4h0M468.9 235.7h0M445.3 233.0h0M427.0 230.7h0M335.6 235.2h0M383.8 234.3h0M357.4 231.3h0M356.2 236.2h0M346.6 235.9h0M432.8 238.0h0M350.0 234.0h0M415.7 233.9h0M362.5 232.6h0M431.2 232.1h0M343.2 235.3h0M328.3 233.5h0M462.0 233.7h0M329.5 235.6h0M403.2 236.8h0M342.0 233.2h0M369.4 235.3h0M343.9 234.6h0M344.7 238.3h0M399.8 238.5h0M438.0 236.2h0M385.6 239.9h0M357.3 235.5h0M406.4 237.0h0M448.5 237.1h0M448.4 236.7h0M465.7 235.2h0M384.5 234.7h0M450.4 231.3h0M385.5 240.4h0M348.1 232.8h0M431.8 232.6h0M348.5 234.9h0M330.1 237.0h0M369.3 231.5h0M418.6 232.7h0M332.6 235.4h0M337.3 236.5h0M342.1 232.3h0M373.3 235.5h0M420.2 232.2h0M462.3 234.8h0M398.1 235.4h0M382.8 237.4h0M432.5 236.4h0M379.0 236.2h0M394.7 238.8h0M388.0 237.6h0M333.1 233.2h0M334.9 234.9h0M404.8 237.5h0M358.1 238.7h0M379.6 237.2h0M395.7 239.3h0M433.9 234.3h0M327.3 235.0h0M465.1 236.4h0M411.4 233.0h0M378.7 234.7h0M379.1 237.3h0M413.7 235.3h0M371.4 235.4h0M400.3 235.7h0M333.6 237.4h0M362.3 237.2h0M440.6 234.5h0M449.8 234.9h0M367.2 233.8h0M338.3 232.1h0M445.7 235.4h0M371.7 232.7h0M439.5 232.7h0M334.2 233.6h0M332.9 234.3h0M405.5 234.1h0M418.0 239.7h0M460.5 233.9h0M409.5 240.3h0M432.1 235.0h0M423.9 231.1h0M458.0 236.7h0M438.5 234.5h0M434.2 235.2h0M390.5 239.2h0M343.0 236.4h0M431.8 238.2h0M342.7 232.8h0M421.9 234.7h0M342.3 237.9h0M370.6 231.6h0M406.7 234.0h0M356.4 235.8h0M403.2 234.9h0M343.8 232.5h0M394.0 240.5h0M388.2 238.2h0M423.1 231.6h0M397.1 236.8h0M381.9 233.3h0M341.2 233.5h0M350.0 234.5h0M355.1 236.4h0M349.6 236.3h0M411.2 236.2h0M382.0 235.0h0M447.3 235.2h0M410.1 236.6h0M467.2 235.7h0M426.4 237.0h0M363.6 233.3h0M408.8 238.3h0M335.2 233.2h0M380.4 233.7h0M388.3 237.0h0M406.6 233.6h0M457.0 234.8h0M396.1 239.3h0M434.5 237.7h0M370.1 232.5h0M331.1 234.0h0M407.8 236.3h0M374.0 238.5h0M462.9 234.3h0M442.0 237.4h0M438.9 236.4h0M354.7 234.9h0M413.8 239.0h0M436.1 233.4h0M455.5 232.3h0M425.3 236.0h0M462.9 234.4h0M367.9 232.3h0M430.7 236.4h0M361.9 239.6h0M403.4 238.6h0M368.2 237.5h0M344.9 235.2h0M365.3 237.1h0M366.0 235.2h0M451.8 236.6h0M449.8 231.9h0M413.8 235.7h0M431.7 234.1h0M421.0 231.8h0M437.6 236.1h0M333.8 232.7h0M378.2 233.1h0M359.6 235.5h0M379.3 233.6h0M461.9 234.9h0M407.5 237.7h0M359.4 231.5h0M341.9 232.2h0M420.6 239.0h0M455.8 236.7h0M407.4 239.4h0M468.4 235.7h0M451.6 237.3h0M422.0 238.9h0M330.3 234.6h0M467.5 235.3h0M449.2 232.3h0M401.1 239.9h0M401.9 239.1h0M401.8 238.0h0M397.9 239.3h0M427.5 235.3h0M396.0 240.1h0M396.1 237.6h0M466.0 235.2h0M345.4 236.6h0M374.3 233.7h0M461.2 233.3h0M462.8 233.8h0M449.6 231.4h0M328.9 234.9h0M411.1 235.0h0M414.2 235.1h0M460.4 236.5h0M400.8 234.5h0M330.6 237.0h0M451.1 231.5h0M329.5 237.2h0M445.5 232.7h0M400.8 236.7h0M435.1 231.6h0M326.1 235.7h0M440.4 230.0h0M446.0 234.8h0M374.3 236.8h0M328.2 233.8h0M363.8 234.5h0M401.8 238.1h0M423.2 235.4h0M359.8 232.0h0M351.3 238.0h0M362.5 235.4h0M438.8 235.4h0M360.3 233.9h0M363.5 235.0h0M362.7 232.1h0M352.6 237.3h0M369.4 236.8h0M430.6 233.0h0M439.8 233.5h0M337.3 233.5h0M361.2 237.6h0M385.7 232.2h0M379.4 236.8h0M457.2 232.3h0M381.8 238.9h0M439.7 231.6h0M374.7 233.0h0M380.6 237.5h0M411.4 234.5h0M394.5 236.9h0M328.0 234.8h0M380.8 239.6h0M457.7 236.3h0M355.6 232.2h0M464.3 234.2h0M375.2 231.9h0M346.4 233.6h0M462.2 236.0h0M345.5 233.8h0M453.1 233.1h0M462.7 235.2h0M379.6 239.0h0M365.3 231.7h0M336.3 237.0h0M376.0 239.6h0M370.2 238.2h0M343.7 234.9h0M403.8 236.5h0M435.8 233.9h0M462.4 236.3h0M358.1 238.9h0M370.6 233.2h0M459.1 234.7h0M349.1 236.4h0M407.9 238.1h0M440.2 230.0h0M392.2 238.3h0M447.8 234.4h0M353.5 231.7h0M466.8 236.1h0M435.8 234.9h0M333.5 236.9h0M350.9 233.3h0M356.5 239.4h0M357.6 232.7h0M397.9 236.8h0M393.0 239.8h0M328.2 235.6h0M332.0 236.3h0M415.1 236.8h0M394.1 237.8h0M371.7 236.6h0M453.3 233.9h0M386.0 236.0h0M392.3 239.3h0M457.6 235.9h0M460.8 233.6h0M453.0 236.5h0M399.3 234.7h0M367.6 238.2h0M430.2 236.7h0M410.0 239.0h0M462.4 235.7h0M340.0 233.9h0M376.0 234.9h0M397.6 235.5h0M400.0 238.0h0M326.2 234.6h0M364.7 234.6h0M417.0 235.9h0M339.0 235.1h0M395.4 237.4h0M465.7 235.7h0M389.8 240.3h0M441.2 236.2h0M445.4 231.9h0M362.7 231.9h0M398.6 237.9h0M405.9 233.9h0M396.5 237.9h0M367.8 232.5h0M398.4 238.4h0M354.3 237.5h0M446.1 231.9h0M466.9 234.8h0M424.7 232.5h0M428.5 232.0h0M441.4 236.7h0M443.3 235.6h0M361.1 231.7h0M329.3 234.9h0M375.4 233.0h0M413.9 233.0h0M460.3 234.3h0M335.3 234.1h0M341.8 231.9h0M451.5 235.5h0M352.8 233.6h0M435.2 230.2h0M415.7 238.8h0M430.6 238.4h0M451.0 232.6h0M439.1 230.9h0M408.0 233.7h0M418.0 235.5h0M381.4 236.9h0M329.3 236.5h0M440.6 236.2h0M420.1 233.0h0M426.0 234.6h0M371.5 237.4h0M353.0 234.0h0M424.8 231.3h0M373.6 231.9h0M457.3 235.6h0M463.1 234.7h0M464.6 234.6h0M374.0 237.4h0M401.2 237.2h0M331.1 233.2h0M403.1 237.2h0M433.2 236.4h0M354.7 234.5h0M360.8 236.6h0M336.1 237.9h0M377.2 235.3h0M462.6 234.6h0M385.7 236.8h0M359.9 235.4h0M464.1 236.1h0M388.3 236.7h0M435.8 233.6h0M418.3 232.0h0M456.0 235.8h0M403.9 233.9h0M402.0 239.1h0M436.3 238.1h0M347.6 234.7h0M365.3 233.4h0M430.7 235.9h0M436.4 232.8h0M427.7 235.0h0M388.3 239.9h0M394.4 236.4h0M453.9 237.1h0M336.2 236.4h0M426.0 235.3h0M344.4 235.7h0M408.5 234.9h0M384.0 234.4h0M424.1 234.0h0M332.7 233.9h0M344.5 238.6h0M394.2 240.5h0M336.5 235.7h0M393.5 240.1h0M463.3 234.1h0M396.1 237.5h0M371.4 231.4h0M343.3 236.5h0M357.8 232.2h0M399.3 237.9h0M383.4 232.4h0M363.1 232.8h0M428.0 235.0h0M378.7 236.1h0M391.2 239.5h0M415.8 236.4h0M369.7 233.1h0M391.5 238.9h0M452.7 234.6h0M380.1 232.2h0M466.6 235.0h0M383.8 234.2h0M432.7 236.0h0M430.3 230.8h0M420.4 233.8h0M388.7 237.2h0M358.5 232.9h0M403.6 234.0h0M375.2 233.7h0M328.4 235.2h0M436.4 236.2h0M414.3 238.1h0M383.4 231.5h0M354.3 231.9h0M334.6 234.6h0M444.3 231.5h0M382.3 234.8h0M428.5 232.4h0M433.5 233.6h0M362.2 233.5h0M406.8 236.4h0M468.1 235.9h0M438.4 235.5h0M430.6 230.8h0M365.5 234.7h0M402.1 237.1h0M350.1 234.2h0M454.7 233.6h0M367.6 232.8h0M386.5 239.2h0M413.2 236.3h0M402.3 234.1h0M408.0 233.6h0M376.8 233.3h0M336.8 236.3h0M425.6 233.2h0M445.3 235.0h0M365.4 236.5h0M403.4 240.3h0M379.9 234.2h0M347.4 236.6h0M451.7 231.7h0M362.0 238.0h0M343.0 238.2h0M440.3 231.9h0M364.1 235.3h0M426.1 239.0h0M443.9 231.3h0M356.4 233.5h0M426.7 236.1h0M452.5 236.1h0M394.2 239.1h0M389.6 237.6h0M408.1 235.8h0M468.1 235.8h0M358.1 234.2h0M347.6 231.8h0M375.1 236.0h0M388.1 235.6h0M457.8 233.8h0M350.7 236.3h0M427.7 237.1h0M453.1 232.3h0M358.6 236.3h0M358.9 233.4h0M332.8 234.0h0M335.0 233.1h0M404.2 236.4h0M339.7 238.3h0M376.8 231.5h0M412.4 233.5h0M335.0 237.4h0M329.0 234.1h0M351.4 237.0h0M422.1 233.5h0M372.4 235.7h0M367.6 234.8h0M377.2 236.7h0M361.8 237.0h0M363.6 239.7h0M370.7 234.6h0M364.7 238.7h0M447.8 234.4h0M399.7 238.4h0M453.7 233.0h0M415.7 234.5h0M425.7 234.8h0M385.5 236.9h0M398.6 237.7h0M402.2 236.9h0M439.6 230.7h0M358.3 239.5h0M369.3 239.7h0M440.7 232.9h0M367.1 238.0h0M451.1 232.2h0M424.4 233.3h0M433.2 234.6h0M383.2 235.2h0M452.8 231.5h0M458.0 233.1h0M336.7 236.6h0M465.8 235.2h0M400.1 238.4h0M450.1 234.1h0M468.6 235.9h0M469.0 235.9h0M347.3 236.0h0M418.1 238.8h0M407.0 233.8h0M388.7 236.7h0M411.2 235.7h0M350.9 235.4h0M455.7 233.6h0M357.2 235.6h0M404.3 238.0h0M409.2 235.6h0M328.6 236.0h0M420.6 237.6h0M336.5 233.5h0M374.1 231.6h0M406.5 239.6h0M417.7 237.5h0M443.3 232.3h0M435.2 238.1h0M330.9 233.5h0M346.2 237.4h0M330.3 236.7h0M394.2 236.5h0M372.3 237.5h0M445.2 236.6h0M417.5 234.6h0M460.7 236.6h0M407.1 237.5h0M444.6 236.0h0M429.0 237.3h0M397.3 235.4h0M360.5 237.1h0M458.1 233.8h0M335.5 236.9h0M360.2 236.9h0M447.6 232.7h0M467.1 235.2h0M416.4 236.6h0M429.3 234.5h0M334.5 235.1h0M381.3 235.3h0M333.0 237.8h0M467.5 235.6h0M373.5 238.6h0M411.3 233.4h0M352.0 235.1h0M398.0 236.2h0M407.4 238.5h0M353.3 233.4h0M337.2 232.9h0M330.8 236.6h0M393.4 237.2h0M415.2 234.0h0M435.6 232.3h0M333.4 233.3h0M347.3 237.8h0M331.4 237.6h0M452.3 235.1h0M338.5 238.1h0M447.9 233.5h0M457.9 236.9h0M342.2 236.6h0M353.5 238.4h0M354.9 234.0h0M350.2 237.8h0M403.1 237.8h0M347.5 234.6h0M399.1 238.0h0M394.3 240.4h0M414.6 238.3h0M374.4 240.1h0M453.8 233.9h0M382.5 235.3h0M461.3 236.2h0M381.2 233.8h0M379.6 233.8h0M456.8 237.0h0M367.0 237.1h0M434.0 231.9h0M426.7 231.3h0M352.7 236.0h0M448.8 232.4h0M342.2 231.9h0M432.6 231.3h0M378.1 234.6h0M464.1 234.2h0M409.1 233.9h0M469.9 235.6h0M420.4 231.6h0M346.7 235.9h0M407.2 239.3h0M438.4 237.9h0M416.5 237.4h0M372.5 234.5h0M353.6 235.6h0M449.4 231.0h0M363.8 236.4h0M425.9 237.5h0M448.3 236.4h0M406.2 237.8h0M326.2 236.0h0M326.3 235.1h0M365.6 231.2h0M417.8 239.2h0M429.1 236.8h0M395.3 237.1h0M449.4 231.3h0M386.6 237.9h0M383.2 237.3h0M432.8 234.6h0M424.7 237.9h0M438.7 230.1h0M355.2 234.2h0M349.3 239.0h0M385.6 238.7h0M431.2 233.8h0M423.1 231.3h0M334.4 237.4h0M331.1 235.2h0M444.7 232.7h0M404.9 234.6h0M379.6 239.1h0M418.4 239.6h0M359.0 239.4h0M349.3 238.7h0M402.5 239.5h0M412.9 233.7h0M375.6 238.9h0M422.7 233.2h0M453.3 234.1h0M409.8 233.9h0M423.5 231.2h0M367.3 233.0h0M417.1 235.8h0M327.5 234.8h0M363.9 234.4h0M399.4 237.3h0M334.5 237.2h0M413.4 234.7h0M468.6 235.4h0M367.8 235.7h0M398.8 235.8h0M382.8 232.1h0M395.7 238.5h0M395.1 238.8h0M469.9 235.8h0M383.5 239.6h0M423.6 238.0h0M347.5 235.7h0M412.7 234.2h0M390.0 239.7h0M379.0 232.3h0M356.7 239.5h0M453.6 234.5h0M345.0 237.9h0M454.2 233.1h0M335.3 234.0h0M356.8 235.6h0M413.1 239.7h0M460.7 235.5h0M346.7 233.1h0M341.7 238.5h0M419.9 235.5h0M455.7 233.0h0M355.7 239.1h0M412.9 236.3h0M369.4 231.9h0M356.0 234.0h0M336.6 232.6h0M462.6 234.7h0M372.1 233.5h0M456.1 233.1h0M331.9 235.0h0M346.2 234.8h0M462.8 234.0h0M361.8 234.7h0M371.7 238.3h0M433.1 232.1h0M374.5 236.1h0M426.3 232.9h0M392.8 240.1h0M339.8 237.3h0M445.0 234.1h0M418.8 236.5h0M379.1 238.5h0M466.3 235.2h0M344.5 233.7h0M412.1 235.4h0M436.9 233.1h0M452.2 231.6h0M384.6 234.4h0M379.9 236.3h0M378.7 234.3h0M376.8 236.8h0M447.9 232.1h0M423.4 232.2h0M381.6 234.4h0M362.2 236.8h0M340.5 233.2h0M458.7 235.5h0M380.5 239.1h0M346.5 234.1h0M454.5 236.9h0M362.7 233.1h0M358.5 232.1h0M376.8 235.7h0M355.0 236.9h0M387.1 238.4h0M431.0 238.7h0M418.0 233.1h0M373.0 238.1h0M343.3 238.3h0M440.1 233.0h0M328.2 235.0h0M412.2 237.5h0M331.0 235.4h0M376.9 231.6h0M377.8 232.0h0M451.0 233.8h0M344.1 233.0h0M339.0 234.7h0M340.0 237.9h0M385.1 238.9h0M468.8 235.5h0M455.2 232.1h0M435.1 232.9h0M394.1 237.2h0M422.4 238.0h0M402.3 237.6h0M400.2 236.0h0M425.2 234.2h0M439.6 231.2h0M339.3 237.5h0M332.8 236.9h0M464.1 235.6h0M389.2 238.5h0M407.3 238.2h0M438.1 235.4h0M447.8 232.1h0M326.2 234.5h0M339.4 232.7h0M336.0 236.4h0M436.7 233.3h0M422.0 235.8h0M401.0 239.0h0M392.6 239.6h0M423.3 238.4h0M345.8 237.5h0M402.7 236.5h0M326.4 233.4h0M446.3 235.0h0M348.9 232.7h0M466.7 235.9h0M434.9 231.6h0M461.0 235.9h0M343.3 237.6h0M359.3 231.9h0M457.0 234.7h0M344.4 236.2h0M360.7 233.9h0M429.7 232.2h0M388.9 238.3h0M393.4 239.0h0M391.5 238.2h0M428.4 236.0h0M407.6 239.2h0M332.5 235.6h0M377.7 239.9h0M337.4 235.5h0M461.7 233.9h0M330.3 235.9h0M379.1 237.2h0M345.7 234.5h0M446.8 235.0h0M351.4 238.4h0M328.2 233.8h0M359.2 233.3h0M439.9 237.6h0M353.2 236.6h0M436.7 232.1h0M369.6 235.7h0M377.1 235.7h0M440.3 235.9h0M442.7 230.7h0M412.5 232.9h0M461.1 236.1h0M468.8 235.8h0M441.9 237.2h0M369.6 235.8h0M446.8 232.8h0M355.4 232.0h0M450.6 234.2h0M333.3 236.2h0M368.1 236.0h0M461.7 234.6h0M444.0 237.6h0M361.4 233.3h0M375.0 237.9h0M335.1 237.8h0M385.4 235.5h0M383.6 235.1h0M367.9 239.8h0M423.1 236.4h0M396.8 238.4h0M364.9 239.3h0M368.7 237.1h0M342.5 238.7h0M395.2 240.5h0M452.6 235.2h0M389.9 238.9h0M329.5 236.9h0M439.1 233.4h0M397.0 238.6h0M434.2 234.2h0M440.1 231.1h0M454.7 233.2h0M423.0 235.3h0M402.8 236.5h0M401.6 235.2h0M449.6 237.5h0M434.3 233.2h0M412.2 233.3h0M333.1 235.1h0M380.1 231.8h0M349.7 234.7h0M346.8 233.3h0M396.4 236.7h0M370.2 232.2h0M327.0 235.6h0M431.6 231.3h0M437.9 235.9h0M337.7 233.8h0M431.3 238.3h0M460.6 234.7h0M330.8 235.1h0M374.7 239.0h0M453.5 232.0h0M343.9 235.5h0M365.4 233.8h0M341.8 236.3h0M385.1 236.0h0M388.7 237.4h0M461.4 233.5h0M456.7 233.0h0M358.9 237.3h0M392.2 238.2h0M413.3 237.2h0M468.8 235.7h0M328.8 236.7h0M356.2 233.3h0M447.1 237.7h0M360.1 237.4h0M439.3 230.7h0M363.9 238.8h0M465.2 234.3h0M429.2 234.7h0M433.5 232.0h0M399.3 238.7h0M401.6 236.1h0M372.7 234.2h0M347.1 231.7h0M356.4 237.4h0M464.3 234.1h0M459.2 233.3h0M448.2 232.0h0M407.6 239.8h0M431.4 231.6h0M446.6 237.7h0M334.8 233.7h0M396.3 236.0h0M468.7 235.6h0M423.3 233.6h0M425.9 235.9h0M418.1 239.2h0M455.6 233.4h0M441.6 234.2h0M355.5 235.5h0M424.0 234.5h0M341.6 238.8h0M383.3 237.9h0M358.7 237.5h0M385.9 234.7h0M457.5 233.8h0M329.0 233.4h0M413.7 234.3h0M414.4 237.0h0M374.9 239.4h0M421.6 239.1h0M424.1 231.6h0M422.2 234.2h0M442.4 230.4h0M443.0 230.2h0M392.2 240.6h0M414.5 234.9h0M450.3 233.5h0M378.3 240.2h0M445.6 233.2h0M467.9 235.4h0M448.8 232.4h0M468.7 235.6h0M455.2 235.0h0M327.6 235.4h0M376.6 231.4h0M382.9 237.6h0M425.5 238.4h0M370.0 236.2h0M343.9 234.4h0M386.9 234.7h0M374.9 231.5h0M354.2 234.9h0M358.6 239.6h0M369.4 232.1h0M368.0 235.4h0M401.5 238.6h0M403.0 239.9h0M376.3 237.4h0M443.4 231.9h0M426.9 233.9h0M450.8 232.7h0M334.0 237.2h0M433.7 231.4h0M468.5 235.3h0M348.7 234.6h0M415.9 234.9h0M345.4 231.8h0M399.5 238.7h0M467.3 235.6h0M336.1 234.0h0M363.4 237.7h0M369.6 234.4h0M372.1 234.0h0M456.4 232.2h0M454.0 232.1h0M362.5 232.5h0M338.9 234.5h0M336.9 237.6h0M462.6 236.2h0M429.3 234.3h0M326.2 233.9h0M334.7 232.9h0M443.9 234.0h0M390.3 240.6h0M426.8 238.9h0M401.8 234.6h0M423.6 238.3h0M429.8 232.8h0M373.4 233.1h0M409.3 237.1h0M401.7 238.5h0M367.4 232.1h0M376.3 233.2h0M378.8 238.3h0M326.2 233.5h0M434.2 230.3h0M410.8 239.7h0M349.5 238.9h0M414.2 235.0h0M463.6 235.6h0M359.6 237.6h0M347.2 239.0h0M397.1 238.2h0M379.0 231.8h0M371.2 232.6h0M402.7 239.7h0M330.3 234.4h0M451.9 237.4h0M427.1 237.0h0M424.9 232.2h0M430.7 236.6h0M348.5 231.7h0M457.9 232.7h0M403.9 240.0h0M379.1 232.1h0M335.6 236.2h0M332.1 233.1h0M376.9 239.3h0M377.3 238.1h0M388.4 237.1h0M420.7 238.7h0M403.0 240.0h0M389.6 237.6h0M363.8 232.6h0M361.1 236.1h0M440.1 238.5h0M405.8 236.5h0M428.9 230.9h0M426.0 237.1h0M354.7 235.3h0M366.5 234.8h0M338.9 233.9h0M386.0 240.0h0M343.4 232.1h0M448.3 231.6h0M382.1 231.6h0M350.5 233.4h0M461.6 235.9h0M326.6 235.7h0M338.0 233.2h0M413.3 236.2h0M342.5 234.1h0M345.7 238.0h0M411.5 235.2h0M441.3 231.3h0M345.8 236.6h0M346.7 235.2h0M330.1 233.2h0M424.2 232.4h0M396.3 235.9h0M446.2 231.7h0M442.1 236.3h0M375.7 239.6h0M436.1 234.3h0M468.0 235.7h0M388.1 235.4h0M465.5 234.8h0M453.1 232.0h0M365.1 234.3h0M335.2 234.0h0M463.2 235.0h0M347.0 234.6h0M335.4 235.2h0M337.5 235.6h0M443.8 232.2h0M448.9 234.5h0M389.5 240.4h0M439.6 233.3h0M384.7 238.9h0M392.0 240.4h0M343.3 238.3h0M387.2 239.4h0M445.1 233.2h0M450.8 233.9h0M349.0 236.9h0M446.9 233.5h0M419.1 234.3h0M332.9 236.7h0M388.1 235.5h0M461.9 234.7h0M363.4 239.3h0M406.5 237.3h0M460.0 236.0h0M355.5 239.4h0M330.1 233.5h0M451.5 236.6h0M328.2 234.5h0M361.5 234.2h0M457.3 233.4h0M366.3 234.4h0M367.7 233.1h0M363.2 232.2h0M423.7 231.8h0M375.8 231.7h0M409.8 238.2h0M419.1 236.9h0M342.3 238.5h0M413.9 238.0h0M340.4 233.3h0M346.4 233.3h0M365.3 236.4h0M460.3 233.6h0M446.2 230.7h0M412.9 233.0h0M415.6 235.1h0M372.6 236.4h0M408.0 238.4h0M418.4 232.6h0M429.7 236.8h0M330.0 235.6h0M388.5 236.0h0M404.8 236.7h0M413.2 235.7h0M423.7 234.5h0M405.6 238.6h0M343.8 235.5h0M453.7 231.9h0M368.2 234.7h0M400.6 237.5h0M351.7 232.9h0M338.3 236.8h0M366.1 237.9h0M353.8 238.7h0M401.4 239.2h0M418.5 234.6h0M415.9 235.9h0M414.2 237.5h0M392.8 237.9h0M357.0 233.3h0M410.3 233.1h0M414.7 235.5h0M436.6 235.9h0M379.6 236.1h0M431.8 232.5h0M352.7 231.7h0M467.4 235.5h0M469.4 235.6h0M381.4 239.4h0M328.5 234.5h0M429.5 233.5h0M438.7 234.5h0M432.9 233.4h0M417.3 235.2h0M422.1 234.6h0M339.0 234.0h0M427.3 235.3h0M465.7 235.3h0M350.0 235.0h0M377.6 238.5h0M453.9 236.3h0M428.6 237.4h0M400.5 234.4h0M338.8 232.9h0M326.9 233.4h0M456.8 234.8h0M417.8 235.8h0M349.6 236.3h0M389.5 237.3h0M342.4 234.8h0M393.9 238.2h0M440.1 233.0h0M372.6 231.6h0M412.2 237.9h0M404.8 234.5h0M332.7 234.2h0M396.2 239.0h0M349.0 237.2h0M389.0 238.5h0M412.6 237.9h0M415.3 236.0h0M440.6 231.4h0M360.2 231.3h0M404.7 238.0h0M362.7 233.4h0M388.9 237.3h0M362.9 232.2h0M364.1 232.2h0M389.1 238.7h0M409.2 236.3h0M404.9 236.5h0M462.8 234.3h0M339.3 232.1h0M328.2 236.6h0M443.9 235.8h0M330.2 236.6h0M397.3 236.0h0M328.9 236.3h0M327.8 236.5h0M371.4 235.4h0M465.5 235.0h0M449.1 233.6h0M457.1 233.7h0M360.6 236.2h0M395.1 240.0h0M459.1 234.8h0M354.8 235.2h0M442.0 235.8h0M410.6 239.5h0M360.8 237.9h0M398.8 236.4h0M358.7 233.6h0M410.4 234.6h0M469.4 235.7h0M469.5 235.7h0M399.4 239.3h0M338.2 234.2h0M340.8 238.4h0M338.1 234.8h0M354.2 237.1h0M436.5 234.5h0M347.2 233.8h0M469.2 235.6h0M390.1 238.9h0M427.2 231.9h0M439.1 236.1h0M438.3 237.5h0M344.5 235.1h0M352.6 234.7h0M366.9 231.6h0M388.4 236.0h0M462.1 235.1h0M436.7 234.1h0M383.5 239.1h0M420.8 231.8h0M425.0 236.4h0M401.6 238.0h0M382.3 233.3h0M327.0 234.8h0M399.7 239.5h0M431.4 236.5h0M384.1 237.9h0M412.0 236.7h0M424.5 235.5h0M438.8 233.5h0M341.1 235.1h0M362.4 236.9h0M462.5 235.1h0M432.4 237.3h0M416.7 238.8h0M357.9 238.4h0M329.6 233.1h0M464.9 235.5h0M327.8 234.0h0M421.4 239.2h0M436.4 238.0h0M359.6 232.9h0M436.5 236.4h0M399.2 235.7h0M412.9 235.9h0M352.6 238.8h0M353.1 234.9h0M411.8 236.5h0M417.6 235.0h0M419.0 236.1h0M447.3 233.9h0M452.8 231.6h0M445.2 232.1h0M425.4 234.4h0M361.7 238.7h0M421.2 237.3h0M414.2 235.6h0M413.4 236.6h0M360.5 236.8h0M426.3 231.6h0M371.9 237.0h0M390.5 239.2h0M417.1 233.6h0M436.5 231.5h0M430.5 230.6h0M390.6 239.1h0M419.8 236.8h0M445.4 234.7h0M406.2 236.6h0M378.4 240.2h0M366.1 235.5h0M463.0 236.1h0M456.0 232.2h0M439.9 235.8h0M328.8 233.3h0M335.9 236.2h0M461.2 234.3h0M444.6 231.6h0M351.7 235.1h0M339.6 235.9h0M397.4 236.1h0M367.6 233.9h0M346.3 237.0h0M334.4 234.6h0M410.4 234.9h0M386.4 233.4h0M430.0 233.9h0M451.8 236.4h0M368.1 234.9h0M412.3 232.9h0M423.8 239.0h0M462.0 235.1h0M355.6 233.1h0M416.5 233.0h0M405.4 238.5h0M393.7 238.6h0M376.7 234.8h0M347.5 237.0h0M343.1 238.7h0M401.6 235.7h0M384.0 232.3h0M413.6 234.8h0M367.2 232.0h0M376.1 232.6h0M361.1 231.5h0M424.4 237.7h0M431.3 237.4h0M381.5 236.7h0M374.2 236.6h0M349.1 235.9h0M339.5 233.2h0M376.9 233.7h0M387.6 234.3h0M452.7 233.1h0M447.1 231.2h0M460.0 235.1h0M411.4 239.6h0M378.5 237.0h0M415.6 240.0h0M434.6 238.0h0M386.9 236.8h0M447.2 233.2h0M347.3 233.9h0M359.9 234.2h0M385.5 232.4h0M390.7 239.7h0M370.7 231.6h0M376.2 237.7h0M403.0 235.9h0M461.4 236.4h0M373.4 233.5h0M397.3 236.7h0M423.1 238.6h0M333.2 236.8h0M369.8 238.2h0M367.3 238.7h0M329.8 234.8h0M435.1 237.1h0M339.6 233.6h0M337.4 237.4h0M396.6 238.9h0M439.0 233.9h0M401.4 237.9h0M330.0 233.4h0M382.1 232.9h0M341.3 235.5h0M403.7 239.3h0M336.7 232.5h0M461.1 233.2h0M404.4 235.4h0M412.6 236.3h0M350.7 234.0h0M389.8 238.3h0M332.0 236.1h0M342.2 233.3h0M395.0 239.1h0M438.5 233.8h0M367.8 236.2h0M326.3 235.8h0M331.3 232.7h0M452.5 234.1h0M461.5 234.8h0M424.1 238.4h0M388.8 237.5h0M384.9 234.4h0M375.4 234.1h0M356.0 235.2h0M387.6 237.0h0M333.9 236.5h0M429.0 237.4h0M394.6 236.2h0M413.8 234.3h0M437.0 230.2h0M381.8 236.5h0M434.7 238.5h0M393.5 239.4h0M406.2 235.2h0M450.0 234.2h0M425.6 238.5h0M421.0 231.8h0M414.6 236.0h0M399.6 237.8h0M351.8 237.6h0M440.4 233.7h0M331.5 234.4h0M445.6 233.0h0M352.0 231.7h0M352.2 235.1h0M392.2 239.9h0M364.4 238.0h0M350.1 239.0h0M419.0 234.0h0M362.2 231.5h0M387.0 237.1h0M459.5 234.1h0M393.1 237.7h0M432.6 235.9h0M336.0 233.7h0M433.7 233.4h0M342.8 233.4h0M351.2 232.9h0M415.5 234.7h0M336.8 235.9h0M431.5 237.8h0M331.6 235.4h0M448.8 233.3h0M359.1 238.9h0M446.5 231.7h0M427.0 237.2h0M434.1 238.7h0M350.8 236.6h0M463.8 236.4h0M349.2 233.4h0M435.8 236.1h0M337.0 233.0h0M465.7 234.6h0M407.5 239.7h0M432.6 233.1h0M445.7 232.2h0M398.4 235.0h0M392.5 238.9h0M417.8 233.3h0M410.6 233.3h0M365.1 232.0h0M452.5 235.3h0M330.1 234.5h0M415.2 232.4h0M406.4 235.3h0M435.4 237.0h0M422.0 235.6h0M357.1 237.0h0M378.2 233.5h0M405.5 238.0h0M334.0 233.5h0M434.6 231.4h0M439.2 237.9h0M366.5 235.6h0M368.8 232.6h0M355.5 239.4h0M391.0 240.5h0M330.1 234.4h0M413.0 235.8h0M336.1 234.7h0M401.3 238.4h0M358.1 238.1h0M395.6 238.7h0M410.3 235.2h0M365.8 234.4h0M363.2 233.2h0M355.4 234.4h0M432.0 231.9h0M400.1 232.4h0M460.2 231.2h0M377.4 230.5h0M412.7 232.0h0M353.4 230.8h0M415.9 231.0h0M451.6 229.5h0M400.2 233.4h0M372.3 230.9h0M344.6 229.7h0M369.3 230.9h0M459.4 231.7h0M432.3 229.1h0M457.8 231.9h0M415.4 231.7h0M451.1 230.2h0M419.5 230.9h0M340.4 231.4h0M434.1 228.1h0M450.9 229.9h0M342.1 230.0h0M433.3 228.7h0M404.7 233.1h0M348.9 231.0h0M368.1 229.1h0M336.4 230.4h0M345.8 231.1h0M451.8 230.6h0M408.5 231.8h0M382.7 230.5h0M348.5 229.9h0M379.1 229.9h0M438.1 229.5h0M385.9 231.4h0M453.0 230.1h0M356.0 230.1h0M331.9 231.2h0M339.2 231.4h0M397.1 233.9h0M358.1 229.8h0M371.1 229.6h0M336.9 230.2h0M352.8 230.5h0M412.9 232.0h0M450.4 230.4h0M384.2 231.0h0M456.9 231.6h0M353.5 230.0h0M414.5 231.7h0M358.9 229.7h0M361.6 230.8h0M421.7 229.2h0M436.4 228.1h0M358.1 230.3h0M409.2 231.6h0M412.6 231.2h0M360.9 230.4h0M341.2 231.4h0M406.7 233.0h0M445.7 228.4h0M349.3 229.3h0M412.4 232.3h0M380.6 230.4h0M370.8 230.8h0M362.1 230.8h0M319.2 233.5h0M321.1 232.1h0M323.1 231.1h0M324.5 229.7h0M329.3 229.7h0M318.3 236.0h0M325.0 235.0h0M326.4 236.4h0M335.1 232.6h0M339.9 230.7h0M340.8 231.6h0M348.5 229.7h0M351.4 229.7h0M365.3 229.6h0M372.0 229.6h0M376.8 229.6h0M380.7 230.1h0M386.0 229.6h0M460.4 232.5h0M465.2 229.5h0M322.5 234.5h0M328.0 234.0h0" stroke="#0d0d0d" stroke-width="2.4" stroke-linecap="round" fill="none"/>
<path d="M331.2 235.5h0M352.4 238.8h0M371.5 240.2h0M380.2 240.7h0M388.4 240.7h0M401.3 238.8h0M405.2 239.2h0M410.4 239.0h0M413.4 239.0h0M371.7 239.3h0M353.5 238.1h0M408.4 239.6h0M401.3 240.0h0M397.2 239.3h0M363.6 238.7h0M363.5 239.6h0M369.2 239.9h0M394.3 240.2h0M375.8 238.9h0M384.3 239.1h0M395.0 239.5h0M396.2 239.5h0M411.2 239.4h0M389.5 239.8h0M378.9 238.8h0M359.2 239.5h0M376.1 239.7h0M394.0 239.6h0M334.2 237.8h0M386.0 239.9h0M391.1 239.9h0M343.4 237.9h0M415.8 239.9h0M385.8 239.6h0M385.5 239.7h0M376.6 238.7h0M407.3 239.7h0M402.3 239.4h0M401.6 238.9h0M340.0 238.4h0M353.5 238.2h0M411.6 239.9h0M374.8 238.8h0" stroke="#d0183a" stroke-width="2.3" stroke-linecap="round" fill="none"/>
<circle cx="295.75" cy="234.50" r="1.10" fill="#0d0d0d"/>
<circle cx="305.00" cy="235.50" r="1.10" fill="#0d0d0d"/>
<circle cx="311.00" cy="232.50" r="1.10" fill="#0d0d0d"/>
<circle cx="376.60" cy="217.20" r="1.10" fill="#0d0d0d"/>
<circle cx="381.90" cy="207.30" r="1.10" fill="#0d0d0d"/>
<circle cx="331.20" cy="150.40" r="1.10" fill="#0d0d0d"/>
<circle cx="438.40" cy="206.30" r="1.10" fill="#0d0d0d"/>
<circle cx="438.40" cy="224.80" r="1.10" fill="#0d0d0d"/>
<circle cx="443.50" cy="221.00" r="1.10" fill="#0d0d0d"/>
<circle cx="473.50" cy="229.10" r="1.10" fill="#0d0d0d"/>
<circle cx="474.50" cy="231.30" r="1.10" fill="#0d0d0d"/>
<circle cx="478.00" cy="232.30" r="1.10" fill="#0d0d0d"/>
<circle cx="480.20" cy="235.00" r="1.10" fill="#0d0d0d"/>
<circle cx="484.50" cy="235.00" r="1.10" fill="#0d0d0d"/>
<circle cx="491.40" cy="235.00" r="1.10" fill="#0d0d0d"/>
<circle cx="494.60" cy="231.90" r="1.10" fill="#0d0d0d"/>
<circle cx="502.00" cy="232.70" r="1.10" fill="#0d0d0d"/>
<circle cx="301.90" cy="25.00" r="1.20" fill="#c8102e"/>
<circle cx="288.00" cy="230.00" r="1.20" fill="#c8102e"/>
<text x="303.50" y="22.20" font-size="8.4" fill="#262626">HLA-DOB</text>
<text x="333.70" y="146.90" font-size="8.4" fill="#262626" textLength="78.40" lengthAdjust="spacingAndGlyphs">ENSG00000284430</text>
<text x="383.00" y="205.20" font-size="8.4" fill="#262626" textLength="45.00" lengthAdjust="spacingAndGlyphs">GOLGA2P6</text>
<text x="439.60" y="203.80" font-size="8.4" fill="#262626" textLength="34.00" lengthAdjust="spacingAndGlyphs">TRBV7-3</text>
<text x="289.50" y="227.50" font-size="8.4" fill="#262626" textLength="41.70" lengthAdjust="spacingAndGlyphs">HLA-DQA2</text>
<text x="8.80" y="296.30" font-size="11.4" fill="#111" font-weight="bold">C</text>
<path d="M63.10,334.10 C63.30,334.10 63.53,340.68 63.70,345.00 C63.87,349.32 64.00,355.50 64.10,360.00 C64.20,364.50 64.28,368.00 64.30,372.00 C64.32,376.00 64.27,379.33 64.20,384.00 C64.13,388.67 64.08,393.70 63.90,400.00 C63.72,406.30 63.37,421.80 63.10,421.80 C62.83,421.80 62.48,406.30 62.30,400.00 C62.12,393.70 62.07,388.67 62.00,384.00 C61.93,379.33 61.88,376.00 61.90,372.00 C61.92,368.00 62.00,364.50 62.10,360.00 C62.20,355.50 62.33,349.32 62.50,345.00 C62.67,340.68 62.90,334.10 63.10,334.10Z" fill="#f6c3bd" stroke="#eeaaa2" stroke-width="0.4"/>
<path d="M76.00,334.00 C76.53,334.00 77.12,341.33 77.60,345.00 C78.08,348.67 78.68,353.17 78.90,356.00 C79.12,358.83 79.02,359.33 78.90,362.00 C78.78,364.67 78.47,368.17 78.20,372.00 C77.93,375.83 77.53,380.33 77.30,385.00 C77.07,389.67 77.02,395.17 76.80,400.00 C76.58,404.83 76.27,414.00 76.00,414.00 C75.73,414.00 75.42,404.83 75.20,400.00 C74.98,395.17 74.93,389.67 74.70,385.00 C74.47,380.33 74.07,375.83 73.80,372.00 C73.53,368.17 73.22,364.67 73.10,362.00 C72.98,359.33 72.88,358.83 73.10,356.00 C73.32,353.17 73.92,348.67 74.40,345.00 C74.88,341.33 75.47,334.00 76.00,334.00Z" fill="#c7cae8" stroke="#b1b6de" stroke-width="0.4"/>
<path d="M88.60,341.10 C89.27,341.10 90.05,348.52 90.60,352.00 C91.15,355.48 91.65,359.33 91.90,362.00 C92.15,364.67 92.22,365.67 92.10,368.00 C91.98,370.33 91.78,373.47 91.20,376.00 C90.62,378.53 89.47,383.20 88.60,383.20 C87.73,383.20 86.58,378.53 86.00,376.00 C85.42,373.47 85.22,370.33 85.10,368.00 C84.98,365.67 85.05,364.67 85.30,362.00 C85.55,359.33 86.05,355.48 86.60,352.00 C87.15,348.52 87.93,341.10 88.60,341.10Z" fill="#d6ecd0" stroke="#bfe0b6" stroke-width="0.4"/>
<path d="M104.10,358.00 C105.03,358.00 106.15,363.25 106.90,365.30 C107.65,367.35 108.12,368.62 108.60,370.30 C109.08,371.98 109.80,373.72 109.80,375.40 C109.80,377.08 109.13,378.72 108.60,380.40 C108.07,382.08 107.22,383.90 106.60,385.50 C105.98,387.10 105.32,388.75 104.90,390.00 C104.48,391.25 104.37,393.00 104.10,393.00 C103.83,393.00 103.72,391.25 103.30,390.00 C102.88,388.75 102.22,387.10 101.60,385.50 C100.98,383.90 100.13,382.08 99.60,380.40 C99.07,378.72 98.40,377.08 98.40,375.40 C98.40,373.72 99.12,371.98 99.60,370.30 C100.08,368.62 100.55,367.35 101.30,365.30 C102.05,363.25 103.17,358.00 104.10,358.00Z" fill="#f6c3bd" stroke="#eeaaa2" stroke-width="0.4"/>
<path d="M116.50,350.00 C117.60,350.00 118.67,355.75 119.80,358.20 C120.93,360.65 123.13,362.35 123.30,364.70 C123.47,367.05 121.55,370.02 120.80,372.30 C120.05,374.58 119.38,376.38 118.80,378.40 C118.22,380.42 117.68,383.13 117.30,384.40 C116.92,385.67 116.77,386.00 116.50,386.00 C116.23,386.00 116.08,385.67 115.70,384.40 C115.32,383.13 114.78,380.42 114.20,378.40 C113.62,376.38 112.95,374.58 112.20,372.30 C111.45,370.02 109.53,367.05 109.70,364.70 C109.87,362.35 112.07,360.65 113.20,358.20 C114.33,355.75 115.40,350.00 116.50,350.00Z" fill="#c7cae8" stroke="#b1b6de" stroke-width="0.4"/>
<path d="M128.50,355.00 C129.23,355.00 130.12,358.00 130.70,360.00 C131.28,362.00 131.93,364.50 132.00,367.00 C132.07,369.50 131.68,372.17 131.10,375.00 C130.52,377.83 129.37,384.00 128.50,384.00 C127.63,384.00 126.48,377.83 125.90,375.00 C125.32,372.17 124.93,369.50 125.00,367.00 C125.07,364.50 125.72,362.00 126.30,360.00 C126.88,358.00 127.77,355.00 128.50,355.00Z" fill="#d6ecd0" stroke="#bfe0b6" stroke-width="0.4"/>
<path d="M144.50,322.00 C145.63,322.00 146.83,326.53 147.90,328.70 C148.97,330.87 150.82,332.72 150.90,335.00 C150.98,337.28 149.17,340.40 148.40,342.40 C147.63,344.40 146.95,345.82 146.30,347.00 C145.65,348.18 145.10,349.50 144.50,349.50 C143.90,349.50 143.35,348.18 142.70,347.00 C142.05,345.82 141.37,344.40 140.60,342.40 C139.83,340.40 138.02,337.28 138.10,335.00 C138.18,332.72 140.03,330.87 141.10,328.70 C142.17,326.53 143.37,322.00 144.50,322.00Z" fill="#f6c3bd" stroke="#eeaaa2" stroke-width="0.4"/>
<path d="M157.00,323.50 C158.23,323.50 159.75,328.27 160.70,330.50 C161.65,332.73 162.70,334.62 162.70,336.90 C162.70,339.18 161.48,342.07 160.70,344.20 C159.92,346.33 158.62,348.57 158.00,349.70 C157.38,350.83 157.33,351.00 157.00,351.00 C156.67,351.00 156.62,350.83 156.00,349.70 C155.38,348.57 154.08,346.33 153.30,344.20 C152.52,342.07 151.30,339.18 151.30,336.90 C151.30,334.62 152.35,332.73 153.30,330.50 C154.25,328.27 155.77,323.50 157.00,323.50Z" fill="#c7cae8" stroke="#b1b6de" stroke-width="0.4"/>
<path d="M169.30,332.80 C170.30,332.80 171.47,333.23 172.30,333.60 C173.13,333.97 173.80,334.10 174.30,335.00 C174.80,335.90 175.03,337.77 175.30,339.00 C175.57,340.23 175.85,341.15 175.90,342.40 C175.95,343.65 175.95,345.27 175.60,346.50 C175.25,347.73 174.85,349.12 173.80,349.80 C172.75,350.48 170.80,350.60 169.30,350.60 C167.80,350.60 165.85,350.48 164.80,349.80 C163.75,349.12 163.35,347.73 163.00,346.50 C162.65,345.27 162.65,343.65 162.70,342.40 C162.75,341.15 163.03,340.23 163.30,339.00 C163.57,337.77 163.80,335.90 164.30,335.00 C164.80,334.10 165.47,333.97 166.30,333.60 C167.13,333.23 168.30,332.80 169.30,332.80Z" fill="#d6ecd0" stroke="#bfe0b6" stroke-width="0.4"/>
<path d="M184.90,325.00 C185.70,325.00 186.65,327.45 187.30,330.00 C187.95,332.55 188.65,336.97 188.80,340.30 C188.95,343.63 188.52,347.38 188.20,350.00 C187.88,352.62 187.32,354.47 186.90,356.00 C186.48,357.53 186.03,358.37 185.70,359.20 C185.37,360.03 185.17,361.00 184.90,361.00 C184.63,361.00 184.43,360.03 184.10,359.20 C183.77,358.37 183.32,357.53 182.90,356.00 C182.48,354.47 181.92,352.62 181.60,350.00 C181.28,347.38 180.85,343.63 181.00,340.30 C181.15,336.97 181.85,332.55 182.50,330.00 C183.15,327.45 184.10,325.00 184.90,325.00Z" fill="#f6c3bd" stroke="#eeaaa2" stroke-width="0.4"/>
<path d="M197.30,324.00 C198.17,324.00 199.20,328.93 199.90,332.00 C200.60,335.07 201.38,339.07 201.50,342.40 C201.62,345.73 201.00,349.40 200.60,352.00 C200.20,354.60 199.52,356.62 199.10,358.00 C198.68,359.38 198.40,359.63 198.10,360.30 C197.80,360.97 197.57,362.00 197.30,362.00 C197.03,362.00 196.80,360.97 196.50,360.30 C196.20,359.63 195.92,359.38 195.50,358.00 C195.08,356.62 194.40,354.60 194.00,352.00 C193.60,349.40 192.98,345.73 193.10,342.40 C193.22,339.07 194.00,335.07 194.70,332.00 C195.40,328.93 196.43,324.00 197.30,324.00Z" fill="#c7cae8" stroke="#b1b6de" stroke-width="0.4"/>
<path d="M209.70,335.00 C210.30,335.00 211.15,334.83 211.50,336.00 C211.85,337.17 211.72,340.42 211.80,342.00 C211.88,343.58 211.38,344.38 212.00,345.50 C212.62,346.62 214.70,347.47 215.50,348.70 C216.30,349.93 216.67,351.50 216.80,352.90 C216.93,354.30 216.65,355.83 216.30,357.10 C215.95,358.37 215.80,359.87 214.70,360.50 C213.60,361.13 211.37,360.90 209.70,360.90 C208.03,360.90 205.80,361.13 204.70,360.50 C203.60,359.87 203.45,358.37 203.10,357.10 C202.75,355.83 202.47,354.30 202.60,352.90 C202.73,351.50 203.10,349.93 203.90,348.70 C204.70,347.47 206.78,346.62 207.40,345.50 C208.02,344.38 207.52,343.58 207.60,342.00 C207.68,340.42 207.55,337.17 207.90,336.00 C208.25,334.83 209.10,335.00 209.70,335.00Z" fill="#d6ecd0" stroke="#bfe0b6" stroke-width="0.4"/>
<path d="M290.30,331.00 C290.83,331.00 291.57,332.83 291.90,334.00 C292.23,335.17 292.33,336.67 292.30,338.00 C292.27,339.33 292.03,340.83 291.70,342.00 C291.37,343.17 290.77,345.00 290.30,345.00 C289.83,345.00 289.23,343.17 288.90,342.00 C288.57,340.83 288.33,339.33 288.30,338.00 C288.27,336.67 288.37,335.17 288.70,334.00 C289.03,332.83 289.77,331.00 290.30,331.00Z" fill="#d6ecd0" stroke="#bfe0b6" stroke-width="0.4"/>
<line x1="337.60" y1="422.90" x2="365.30" y2="422.90" stroke="#b9a595" stroke-width="1.0"/>
<path d="M386.40,315.00 C386.73,315.00 386.92,315.97 387.40,317.30 C387.88,318.63 388.65,320.93 389.30,323.00 C389.95,325.07 391.13,327.08 391.30,329.70 C391.47,332.32 390.83,336.27 390.30,338.70 C389.77,341.13 388.65,342.82 388.10,344.30 C387.55,345.78 387.28,346.82 387.00,347.60 C386.72,348.38 386.60,349.00 386.40,349.00 C386.20,349.00 386.08,348.38 385.80,347.60 C385.52,346.82 385.25,345.78 384.70,344.30 C384.15,342.82 383.03,341.13 382.50,338.70 C381.97,336.27 381.33,332.32 381.50,329.70 C381.67,327.08 382.85,325.07 383.50,323.00 C384.15,320.93 384.92,318.63 385.40,317.30 C385.88,315.97 386.07,315.00 386.40,315.00Z" fill="#f6c3bd" stroke="#eeaaa2" stroke-width="0.4"/>
<path d="M399.00,316.00 C399.33,316.00 399.47,315.97 400.00,317.30 C400.53,318.63 401.48,321.55 402.20,324.00 C402.92,326.45 404.17,329.00 404.30,332.00 C404.43,335.00 403.55,339.33 403.00,342.00 C402.45,344.67 401.53,346.50 401.00,348.00 C400.47,349.50 400.13,350.25 399.80,351.00 C399.47,351.75 399.27,352.50 399.00,352.50 C398.73,352.50 398.53,351.75 398.20,351.00 C397.87,350.25 397.53,349.50 397.00,348.00 C396.47,346.50 395.55,344.67 395.00,342.00 C394.45,339.33 393.57,335.00 393.70,332.00 C393.83,329.00 395.08,326.45 395.80,324.00 C396.52,321.55 397.47,318.63 398.00,317.30 C398.53,315.97 398.67,316.00 399.00,316.00Z" fill="#c7cae8" stroke="#b1b6de" stroke-width="0.4"/>
<path d="M411.30,326.30 C412.10,326.30 413.37,326.15 413.70,326.60 C414.03,327.05 413.27,328.18 413.30,329.00 C413.33,329.82 413.43,330.75 413.90,331.50 C414.37,332.25 415.47,332.75 416.10,333.50 C416.73,334.25 417.37,334.92 417.70,336.00 C418.03,337.08 418.07,338.50 418.10,340.00 C418.13,341.50 418.12,343.62 417.90,345.00 C417.68,346.38 417.90,347.63 416.80,348.30 C415.70,348.97 413.13,349.00 411.30,349.00 C409.47,349.00 406.90,348.97 405.80,348.30 C404.70,347.63 404.92,346.38 404.70,345.00 C404.48,343.62 404.47,341.50 404.50,340.00 C404.53,338.50 404.57,337.08 404.90,336.00 C405.23,334.92 405.87,334.25 406.50,333.50 C407.13,332.75 408.23,332.25 408.70,331.50 C409.17,330.75 409.27,329.82 409.30,329.00 C409.33,328.18 408.57,327.05 408.90,326.60 C409.23,326.15 410.50,326.30 411.30,326.30Z" fill="#d6ecd0" stroke="#bfe0b6" stroke-width="0.4"/>
<path d="M427.00,375.00 C427.40,375.00 427.83,378.15 428.20,380.00 C428.57,381.85 428.87,383.80 429.20,386.10 C429.53,388.40 430.05,390.70 430.20,393.80 C430.35,396.90 430.27,401.07 430.10,404.70 C429.93,408.33 429.55,412.80 429.20,415.60 C428.85,418.40 428.37,420.30 428.00,421.50 C427.63,422.70 427.33,422.80 427.00,422.80 C426.67,422.80 426.37,422.70 426.00,421.50 C425.63,420.30 425.15,418.40 424.80,415.60 C424.45,412.80 424.07,408.33 423.90,404.70 C423.73,401.07 423.65,396.90 423.80,393.80 C423.95,390.70 424.47,388.40 424.80,386.10 C425.13,383.80 425.43,381.85 425.80,380.00 C426.17,378.15 426.60,375.00 427.00,375.00Z" fill="#f6c3bd" stroke="#eeaaa2" stroke-width="0.4"/>
<path d="M439.30,380.00 C439.83,380.00 440.35,382.07 440.90,384.00 C441.45,385.93 442.23,389.07 442.60,391.60 C442.97,394.13 443.20,396.10 443.10,399.20 C443.00,402.30 442.43,407.07 442.00,410.20 C441.57,413.33 440.95,415.97 440.50,418.00 C440.05,420.03 439.70,422.40 439.30,422.40 C438.90,422.40 438.55,420.03 438.10,418.00 C437.65,415.97 437.03,413.33 436.60,410.20 C436.17,407.07 435.60,402.30 435.50,399.20 C435.40,396.10 435.63,394.13 436.00,391.60 C436.37,389.07 437.15,385.93 437.70,384.00 C438.25,382.07 438.77,380.00 439.30,380.00Z" fill="#c7cae8" stroke="#b1b6de" stroke-width="0.4"/>
<path d="M451.90,371.30 C452.30,371.30 452.87,370.55 453.10,372.00 C453.33,373.45 453.23,377.65 453.30,380.00 C453.37,382.35 453.28,384.35 453.50,386.10 C453.72,387.85 454.13,389.03 454.60,390.50 C455.07,391.97 455.90,393.45 456.30,394.90 C456.70,396.35 456.88,397.57 457.00,399.20 C457.12,400.83 457.22,403.03 457.00,404.70 C456.78,406.37 456.55,408.38 455.70,409.20 C454.85,410.02 453.17,409.60 451.90,409.60 C450.63,409.60 448.95,410.02 448.10,409.20 C447.25,408.38 447.02,406.37 446.80,404.70 C446.58,403.03 446.68,400.83 446.80,399.20 C446.92,397.57 447.10,396.35 447.50,394.90 C447.90,393.45 448.73,391.97 449.20,390.50 C449.67,389.03 450.08,387.85 450.30,386.10 C450.52,384.35 450.43,382.35 450.50,380.00 C450.57,377.65 450.47,373.45 450.70,372.00 C450.93,370.55 451.50,371.30 451.90,371.30Z" fill="#d6ecd0" stroke="#bfe0b6" stroke-width="0.4"/>
<line x1="63.10" y1="334.10" x2="63.10" y2="421.80" stroke="#664646" stroke-width="0.85"/>
<circle cx="63.10" cy="380.90" r="0.90" fill="#8b1520"/>
<line x1="76.00" y1="414.80" x2="76.00" y2="422.00" stroke="#b4b4b4" stroke-width="0.8"/>
<line x1="76.00" y1="334.00" x2="76.00" y2="414.80" stroke="#4a4f63" stroke-width="0.85"/>
<rect x="74.65" y="360.10" width="2.70" height="24.50" fill="#142c5a"/>
<circle cx="76.00" cy="422.30" r="0.80" fill="#333"/>
<line x1="88.60" y1="341.10" x2="88.60" y2="383.20" stroke="#42553f" stroke-width="0.85"/>
<rect x="87.25" y="358.70" width="2.70" height="12.60" fill="#2d6a2a"/>
<line x1="104.10" y1="357.70" x2="104.10" y2="398.60" stroke="#664646" stroke-width="0.85"/>
<rect x="102.75" y="370.80" width="2.70" height="11.60" fill="#8b1520"/>
<circle cx="104.10" cy="351.30" r="0.80" fill="#333"/>
<circle cx="104.10" cy="408.20" r="0.80" fill="#333"/>
<line x1="116.50" y1="347.60" x2="116.50" y2="397.60" stroke="#4a4f63" stroke-width="0.85"/>
<rect x="115.15" y="363.70" width="2.70" height="11.10" fill="#142c5a"/>
<circle cx="116.50" cy="347.60" r="0.80" fill="#333"/>
<circle cx="116.50" cy="397.60" r="0.80" fill="#333"/>
<line x1="128.50" y1="355.00" x2="128.50" y2="384.00" stroke="#42553f" stroke-width="0.85"/>
<rect x="127.15" y="365.80" width="2.70" height="12.60" fill="#2d6a2a"/>
<line x1="144.50" y1="320.00" x2="144.50" y2="369.00" stroke="#664646" stroke-width="0.85"/>
<rect x="143.15" y="331.90" width="2.70" height="12.80" fill="#8b1520"/>
<circle cx="144.50" cy="361.00" r="0.80" fill="#333"/>
<circle cx="144.50" cy="362.30" r="0.80" fill="#333"/>
<circle cx="144.50" cy="363.60" r="0.80" fill="#333"/>
<circle cx="144.50" cy="364.90" r="0.80" fill="#333"/>
<circle cx="144.50" cy="366.20" r="0.80" fill="#333"/>
<circle cx="144.50" cy="367.50" r="0.80" fill="#333"/>
<circle cx="144.50" cy="368.80" r="0.80" fill="#333"/>
<circle cx="144.50" cy="371.60" r="0.80" fill="#333"/>
<circle cx="144.50" cy="375.30" r="0.80" fill="#333"/>
<line x1="157.00" y1="353.00" x2="157.00" y2="368.00" stroke="#b4b4b4" stroke-width="0.8"/>
<line x1="157.00" y1="322.80" x2="157.00" y2="353.00" stroke="#4a4f63" stroke-width="0.85"/>
<rect x="155.65" y="332.40" width="2.70" height="10.50" fill="#142c5a"/>
<circle cx="157.00" cy="369.60" r="0.80" fill="#333"/>
<line x1="169.30" y1="332.80" x2="169.30" y2="350.20" stroke="#42553f" stroke-width="0.85"/>
<rect x="167.95" y="339.20" width="2.70" height="6.80" fill="#2d6a2a"/>
<line x1="184.90" y1="320.30" x2="184.90" y2="378.20" stroke="#664646" stroke-width="0.85"/>
<rect x="183.55" y="336.60" width="2.70" height="18.40" fill="#8b1520"/>
<circle cx="184.90" cy="381.80" r="0.80" fill="#333"/>
<circle cx="184.90" cy="384.50" r="0.80" fill="#333"/>
<line x1="197.30" y1="321.30" x2="197.30" y2="372.40" stroke="#4a4f63" stroke-width="0.85"/>
<rect x="195.95" y="337.60" width="2.70" height="15.30" fill="#142c5a"/>
<line x1="209.70" y1="335.00" x2="209.70" y2="346.00" stroke="#b4b4b4" stroke-width="0.8"/>
<line x1="209.70" y1="346.00" x2="209.70" y2="361.30" stroke="#42553f" stroke-width="0.85"/>
<rect x="208.35" y="350.60" width="2.70" height="9.10" fill="#2d6a2a"/>
<circle cx="209.70" cy="333.40" r="0.75" fill="#9a9a9a"/>
<line x1="225.00" y1="325.60" x2="225.00" y2="396.80" stroke="#664646" stroke-width="0.85"/>
<rect x="223.65" y="345.60" width="2.70" height="21.90" fill="#8b1520"/>
<circle cx="225.00" cy="404.00" r="0.80" fill="#333"/>
<line x1="237.40" y1="326.50" x2="237.40" y2="388.50" stroke="#4a4f63" stroke-width="0.85"/>
<rect x="236.05" y="344.70" width="2.70" height="18.80" fill="#142c5a"/>
<line x1="249.80" y1="343.80" x2="249.80" y2="382.10" stroke="#42553f" stroke-width="0.85"/>
<rect x="248.45" y="357.00" width="2.70" height="25.00" fill="#2d6a2a"/>
<line x1="265.70" y1="304.60" x2="265.70" y2="375.80" stroke="#664646" stroke-width="0.85"/>
<rect x="264.35" y="322.80" width="2.70" height="17.70" fill="#8b1520"/>
<line x1="278.50" y1="308.20" x2="278.50" y2="354.80" stroke="#4a4f63" stroke-width="0.85"/>
<rect x="277.15" y="321.90" width="2.70" height="15.00" fill="#142c5a"/>
<circle cx="278.50" cy="358.00" r="0.80" fill="#333"/>
<circle cx="278.50" cy="360.50" r="0.80" fill="#333"/>
<circle cx="278.50" cy="363.00" r="0.80" fill="#333"/>
<circle cx="278.50" cy="366.60" r="0.80" fill="#333"/>
<line x1="290.30" y1="330.00" x2="290.30" y2="345.00" stroke="#42553f" stroke-width="0.85"/>
<rect x="288.95" y="333.80" width="2.70" height="7.80" fill="#2d6a2a"/>
<circle cx="290.30" cy="318.30" r="0.80" fill="#333"/>
<line x1="305.90" y1="398.50" x2="305.90" y2="412.30" stroke="#b4b4b4" stroke-width="0.8"/>
<rect x="304.55" y="412.30" width="2.70" height="11.20" fill="#8b1520"/>
<circle cx="305.90" cy="389.60" r="0.80" fill="#333"/>
<circle cx="305.90" cy="391.90" r="0.80" fill="#333"/>
<circle cx="305.90" cy="393.50" r="0.80" fill="#333"/>
<circle cx="305.90" cy="395.80" r="0.80" fill="#333"/>
<line x1="318.50" y1="397.70" x2="318.50" y2="412.30" stroke="#4a4f63" stroke-width="0.85"/>
<rect x="317.15" y="412.30" width="2.70" height="11.20" fill="#142c5a"/>
<circle cx="318.50" cy="394.20" r="0.80" fill="#333"/>
<line x1="330.80" y1="411.50" x2="330.80" y2="417.30" stroke="#b4b4b4" stroke-width="0.8"/>
<rect x="329.45" y="417.30" width="2.70" height="6.20" fill="#2d6a2a"/>
<circle cx="330.80" cy="410.40" r="0.75" fill="#9a9a9a"/>
<circle cx="345.80" cy="406.20" r="0.80" fill="#333"/>
<circle cx="345.80" cy="412.70" r="0.80" fill="#333"/>
<circle cx="345.80" cy="416.50" r="0.80" fill="#333"/>
<circle cx="345.80" cy="422.90" r="0.80" fill="#333"/>
<circle cx="358.50" cy="416.50" r="0.80" fill="#333"/>
<circle cx="358.50" cy="422.90" r="0.80" fill="#333"/>
<circle cx="370.90" cy="422.90" r="0.80" fill="#333"/>
<line x1="386.40" y1="311.70" x2="386.40" y2="380.20" stroke="#664646" stroke-width="0.85"/>
<rect x="385.05" y="328.00" width="2.70" height="16.30" fill="#8b1520"/>
<circle cx="386.40" cy="368.00" r="0.80" fill="#333"/>
<circle cx="386.40" cy="370.00" r="0.80" fill="#333"/>
<circle cx="386.40" cy="372.00" r="0.80" fill="#333"/>
<circle cx="386.40" cy="374.00" r="0.80" fill="#333"/>
<circle cx="386.40" cy="376.00" r="0.80" fill="#333"/>
<circle cx="386.40" cy="378.00" r="0.80" fill="#333"/>
<line x1="399.00" y1="353.30" x2="399.00" y2="369.00" stroke="#b4b4b4" stroke-width="0.8"/>
<line x1="399.00" y1="314.50" x2="399.00" y2="353.30" stroke="#4a4f63" stroke-width="0.85"/>
<rect x="397.65" y="328.00" width="2.70" height="15.70" fill="#142c5a"/>
<circle cx="399.00" cy="371.80" r="0.80" fill="#333"/>
<circle cx="399.00" cy="375.10" r="0.80" fill="#333"/>
<line x1="411.30" y1="331.00" x2="411.30" y2="348.20" stroke="#42553f" stroke-width="0.85"/>
<rect x="409.95" y="337.50" width="2.70" height="7.30" fill="#2d6a2a"/>
<circle cx="411.30" cy="325.50" r="0.75" fill="#9a9a9a"/>
<line x1="427.00" y1="360.90" x2="427.00" y2="422.20" stroke="#664646" stroke-width="0.85"/>
<rect x="425.65" y="392.10" width="2.70" height="21.40" fill="#8b1520"/>
<circle cx="427.00" cy="358.20" r="0.80" fill="#333"/>
<line x1="439.30" y1="364.20" x2="439.30" y2="422.20" stroke="#4a4f63" stroke-width="0.85"/>
<rect x="437.95" y="392.10" width="2.70" height="18.60" fill="#142c5a"/>
<circle cx="439.30" cy="353.80" r="0.80" fill="#333"/>
<circle cx="439.30" cy="357.10" r="0.80" fill="#333"/>
<circle cx="439.30" cy="360.40" r="0.80" fill="#333"/>
<line x1="451.90" y1="388.00" x2="451.90" y2="409.60" stroke="#42553f" stroke-width="0.85"/>
<rect x="450.55" y="396.00" width="2.70" height="12.00" fill="#2d6a2a"/>
<circle cx="451.90" cy="369.70" r="0.75" fill="#9a9a9a"/>
<line x1="54.80" y1="288.50" x2="54.80" y2="429.00" stroke="#1a1a1a" stroke-width="1.0"/>
<line x1="54.30" y1="428.50" x2="461.20" y2="428.50" stroke="#1a1a1a" stroke-width="1.0"/>
<line x1="51.80" y1="423.10" x2="54.80" y2="423.10" stroke="#1a1a1a" stroke-width="0.9"/>
<text x="48.10" y="425.70" font-size="7.3" fill="#262626" text-anchor="end">0</text>
<line x1="51.80" y1="380.80" x2="54.80" y2="380.80" stroke="#1a1a1a" stroke-width="0.9"/>
<text x="48.10" y="383.40" font-size="7.3" fill="#262626" text-anchor="end">2</text>
<line x1="51.80" y1="338.50" x2="54.80" y2="338.50" stroke="#1a1a1a" stroke-width="0.9"/>
<text x="48.10" y="341.10" font-size="7.3" fill="#262626" text-anchor="end">4</text>
<line x1="51.80" y1="296.20" x2="54.80" y2="296.20" stroke="#1a1a1a" stroke-width="0.9"/>
<text x="48.10" y="298.80" font-size="7.3" fill="#262626" text-anchor="end">6</text>
<line x1="76.00" y1="428.50" x2="76.00" y2="431.30" stroke="#1a1a1a" stroke-width="0.9"/>
<text x="79.60" y="438.50" font-size="8.6" fill="#262626" text-anchor="end" transform="rotate(-45 79.60 438.50)">HLA-DQA2</text>
<line x1="116.40" y1="428.50" x2="116.40" y2="431.30" stroke="#1a1a1a" stroke-width="0.9"/>
<text x="120.00" y="438.50" font-size="8.6" fill="#262626" text-anchor="end" transform="rotate(-45 120.00 438.50)">HLA-DOB</text>
<line x1="156.80" y1="428.50" x2="156.80" y2="431.30" stroke="#1a1a1a" stroke-width="0.9"/>
<text x="160.40" y="438.50" font-size="8.6" fill="#262626" text-anchor="end" transform="rotate(-45 160.40 438.50)">HLA-DMA</text>
<line x1="197.20" y1="428.50" x2="197.20" y2="431.30" stroke="#1a1a1a" stroke-width="0.9"/>
<text x="200.80" y="438.50" font-size="8.6" fill="#262626" text-anchor="end" transform="rotate(-45 200.80 438.50)">HLA-DMB</text>
<line x1="237.60" y1="428.50" x2="237.60" y2="431.30" stroke="#1a1a1a" stroke-width="0.9"/>
<text x="241.20" y="438.50" font-size="8.6" fill="#262626" text-anchor="end" transform="rotate(-45 241.20 438.50)">HLA-DOA</text>
<line x1="278.00" y1="428.50" x2="278.00" y2="431.30" stroke="#1a1a1a" stroke-width="0.9"/>
<text x="281.60" y="438.50" font-size="8.6" fill="#262626" text-anchor="end" transform="rotate(-45 281.60 438.50)">HLA-DPA1</text>
<line x1="318.40" y1="428.50" x2="318.40" y2="431.30" stroke="#1a1a1a" stroke-width="0.9"/>
<text x="322.00" y="438.50" font-size="8.6" fill="#262626" text-anchor="end" transform="rotate(-45 322.00 438.50)">HLA-DPA2</text>
<line x1="358.80" y1="428.50" x2="358.80" y2="431.30" stroke="#1a1a1a" stroke-width="0.9"/>
<text x="362.40" y="438.50" font-size="8.6" fill="#262626" text-anchor="end" transform="rotate(-45 362.40 438.50)">HLA-DPA3</text>
<line x1="399.20" y1="428.50" x2="399.20" y2="431.30" stroke="#1a1a1a" stroke-width="0.9"/>
<text x="402.80" y="438.50" font-size="8.6" fill="#262626" text-anchor="end" transform="rotate(-45 402.80 438.50)">HLA-DPB1</text>
<line x1="439.60" y1="428.50" x2="439.60" y2="431.30" stroke="#1a1a1a" stroke-width="0.9"/>
<text x="443.20" y="438.50" font-size="8.6" fill="#262626" text-anchor="end" transform="rotate(-45 443.20 438.50)">HLA-DPB2</text>
<text x="36.80" y="358.10" font-size="9.2" fill="#262626" text-anchor="middle" textLength="68.50" lengthAdjust="spacingAndGlyphs" transform="rotate(-90 36.80 358.10)" stroke="#333" stroke-width="0.35">Normalized expression</text>
<text x="258.30" y="479.80" font-size="9.4" fill="#262626" text-anchor="middle" textLength="15.20" lengthAdjust="spacingAndGlyphs" stroke="#333" stroke-width="0.35">Gene</text>
<text x="462.80" y="336.80" font-size="7.6" fill="#262626" textLength="32.30" lengthAdjust="spacingAndGlyphs">Genotype</text>
<rect x="462.80" y="343.60" width="5.40" height="5.10" fill="#a3172b"/>
<text x="472.20" y="348.60" font-size="8.2" fill="#262626">GG</text>
<rect x="462.80" y="351.20" width="5.40" height="5.10" fill="#1b356f"/>
<text x="472.20" y="356.20" font-size="8.2" fill="#262626">GA</text>
<rect x="462.80" y="358.80" width="5.40" height="5.10" fill="#3b7c3a"/>
<text x="472.20" y="363.80" font-size="8.2" fill="#262626">AA</text>
<line x1="63.30" y1="330.60" x2="88.60" y2="330.60" stroke="#2a2a2a" stroke-width="1.0"/>
<text x="75.80" y="330.30" font-size="8.0" fill="#222" text-anchor="middle">***</text>
<line x1="102.70" y1="343.50" x2="128.70" y2="343.50" stroke="#2a2a2a" stroke-width="1.0"/>
<text x="116.00" y="342.70" font-size="8.0" fill="#222" text-anchor="middle">***</text>
<path d="M63.30,540.00 C64.07,540.00 65.15,544.48 65.60,546.70 C66.05,548.92 66.00,549.97 66.00,553.30 C66.00,556.63 65.83,562.25 65.60,566.70 C65.37,571.15 64.98,576.78 64.60,580.00 C64.22,583.22 63.73,586.00 63.30,586.00 C62.87,586.00 62.38,583.22 62.00,580.00 C61.62,576.78 61.23,571.15 61.00,566.70 C60.77,562.25 60.60,556.63 60.60,553.30 C60.60,549.97 60.55,548.92 61.00,546.70 C61.45,544.48 62.53,540.00 63.30,540.00Z" fill="#f6c3bd" stroke="#eeaaa2" stroke-width="0.4"/>
<path d="M75.70,533.30 C76.47,533.30 77.55,542.25 78.00,546.70 C78.45,551.15 78.40,555.57 78.40,560.00 C78.40,564.43 78.25,568.85 78.00,573.30 C77.75,577.75 77.28,583.47 76.90,586.70 C76.52,589.93 76.10,592.70 75.70,592.70 C75.30,592.70 74.88,589.93 74.50,586.70 C74.12,583.47 73.65,577.75 73.40,573.30 C73.15,568.85 73.00,564.43 73.00,560.00 C73.00,555.57 72.95,551.15 73.40,546.70 C73.85,542.25 74.93,533.30 75.70,533.30Z" fill="#c7cae8" stroke="#b1b6de" stroke-width="0.4"/>
<path d="M88.30,570.70 C88.90,570.70 89.63,573.45 90.10,575.00 C90.57,576.55 90.98,578.05 91.10,580.00 C91.22,581.95 91.27,584.25 90.80,586.70 C90.33,589.15 89.13,594.70 88.30,594.70 C87.47,594.70 86.27,589.15 85.80,586.70 C85.33,584.25 85.38,581.95 85.50,580.00 C85.62,578.05 86.03,576.55 86.50,575.00 C86.97,573.45 87.70,570.70 88.30,570.70Z" fill="#d6ecd0" stroke="#bfe0b6" stroke-width="0.4"/>
<path d="M103.70,528.40 C104.30,528.40 105.03,533.98 105.50,536.80 C105.97,539.62 106.33,542.25 106.50,545.30 C106.67,548.35 106.62,551.13 106.50,555.10 C106.38,559.07 106.10,565.60 105.80,569.10 C105.50,572.60 105.05,574.12 104.70,576.10 C104.35,578.08 104.03,581.00 103.70,581.00 C103.37,581.00 103.05,578.08 102.70,576.10 C102.35,574.12 101.90,572.60 101.60,569.10 C101.30,565.60 101.02,559.07 100.90,555.10 C100.78,551.13 100.73,548.35 100.90,545.30 C101.07,542.25 101.43,539.62 101.90,536.80 C102.37,533.98 103.10,528.40 103.70,528.40Z" fill="#f6c3bd" stroke="#eeaaa2" stroke-width="0.4"/>
<path d="M116.10,529.80 C116.80,529.80 117.78,534.68 118.20,536.80 C118.62,538.92 118.60,539.45 118.60,542.50 C118.60,545.55 118.42,551.13 118.20,555.10 C117.98,559.07 117.65,563.98 117.30,566.30 C116.95,568.62 116.50,569.00 116.10,569.00 C115.70,569.00 115.25,568.62 114.90,566.30 C114.55,563.98 114.22,559.07 114.00,555.10 C113.78,551.13 113.60,545.55 113.60,542.50 C113.60,539.45 113.58,538.92 114.00,536.80 C114.42,534.68 115.40,529.80 116.10,529.80Z" fill="#c7cae8" stroke="#b1b6de" stroke-width="0.4"/>
<path d="M128.60,562.10 C129.23,562.10 129.97,566.77 130.50,569.10 C131.03,571.43 131.58,573.75 131.80,576.10 C132.02,578.45 132.02,580.85 131.80,583.20 C131.58,585.55 131.03,588.68 130.50,590.20 C129.97,591.72 129.23,592.30 128.60,592.30 C127.97,592.30 127.23,591.72 126.70,590.20 C126.17,588.68 125.62,585.55 125.40,583.20 C125.18,580.85 125.18,578.45 125.40,576.10 C125.62,573.75 126.17,571.43 126.70,569.10 C127.23,566.77 127.97,562.10 128.60,562.10Z" fill="#d6ecd0" stroke="#bfe0b6" stroke-width="0.4"/>
<path d="M144.40,576.50 C144.87,576.50 145.57,579.42 145.80,585.00 C146.03,590.58 146.03,603.85 145.80,610.00 C145.57,616.15 144.87,621.90 144.40,621.90 C143.93,621.90 143.23,616.15 143.00,610.00 C142.77,603.85 142.77,590.58 143.00,585.00 C143.23,579.42 143.93,576.50 144.40,576.50Z" fill="#f6c3bd" stroke="#eeaaa2" stroke-width="0.4"/>
<path d="M156.50,575.00 C156.93,575.00 157.58,579.17 157.80,585.00 C158.02,590.83 158.02,604.17 157.80,610.00 C157.58,615.83 156.93,620.00 156.50,620.00 C156.07,620.00 155.42,615.83 155.20,610.00 C154.98,604.17 154.98,590.83 155.20,585.00 C155.42,579.17 156.07,575.00 156.50,575.00Z" fill="#c7cae8" stroke="#b1b6de" stroke-width="0.4"/>
<path d="M169.20,621.90 C169.93,621.90 170.80,623.02 171.40,624.00 C172.00,624.98 172.70,626.55 172.80,627.80 C172.90,629.05 172.60,630.50 172.00,631.50 C171.40,632.50 170.13,633.80 169.20,633.80 C168.27,633.80 167.00,632.50 166.40,631.50 C165.80,630.50 165.50,629.05 165.60,627.80 C165.70,626.55 166.40,624.98 167.00,624.00 C167.60,623.02 168.47,621.90 169.20,621.90Z" fill="#d6ecd0" stroke="#bfe0b6" stroke-width="0.4"/>
<path d="M184.50,575.30 C185.00,575.30 185.75,579.22 186.00,585.00 C186.25,590.78 186.25,604.02 186.00,610.00 C185.75,615.98 185.00,620.90 184.50,620.90 C184.00,620.90 183.25,615.98 183.00,610.00 C182.75,604.02 182.75,590.78 183.00,585.00 C183.25,579.22 184.00,575.30 184.50,575.30Z" fill="#f6c3bd" stroke="#eeaaa2" stroke-width="0.4"/>
<path d="M197.10,580.00 C197.53,580.00 198.18,585.83 198.40,590.00 C198.62,594.17 198.62,600.83 198.40,605.00 C198.18,609.17 197.53,615.00 197.10,615.00 C196.67,615.00 196.02,609.17 195.80,605.00 C195.58,600.83 195.58,594.17 195.80,590.00 C196.02,585.83 196.67,580.00 197.10,580.00Z" fill="#c7cae8" stroke="#b1b6de" stroke-width="0.4"/>
<path d="M209.20,591.50 C209.73,591.50 210.40,591.62 210.80,592.20 C211.20,592.78 211.33,594.02 211.60,595.00 C211.87,595.98 212.17,597.17 212.40,598.10 C212.63,599.03 213.00,599.70 213.00,600.60 C213.00,601.50 212.70,602.68 212.40,603.50 C212.10,604.32 211.73,605.08 211.20,605.50 C210.67,605.92 209.87,606.00 209.20,606.00 C208.53,606.00 207.73,605.92 207.20,605.50 C206.67,605.08 206.30,604.32 206.00,603.50 C205.70,602.68 205.40,601.50 205.40,600.60 C205.40,599.70 205.77,599.03 206.00,598.10 C206.23,597.17 206.53,595.98 206.80,595.00 C207.07,594.02 207.20,592.78 207.60,592.20 C208.00,591.62 208.67,591.50 209.20,591.50Z" fill="#d6ecd0" stroke="#bfe0b6" stroke-width="0.4"/>
<path d="M224.80,518.50 C225.43,518.50 226.18,522.95 226.70,525.20 C227.22,527.45 227.88,529.37 227.90,532.00 C227.92,534.63 227.32,538.38 226.80,541.00 C226.28,543.62 225.47,547.70 224.80,547.70 C224.13,547.70 223.32,543.62 222.80,541.00 C222.28,538.38 221.68,534.63 221.70,532.00 C221.72,529.37 222.38,527.45 222.90,525.20 C223.42,522.95 224.17,518.50 224.80,518.50Z" fill="#f6c3bd" stroke="#eeaaa2" stroke-width="0.4"/>
<path d="M237.40,521.90 C238.13,521.90 239.02,525.85 239.60,528.00 C240.18,530.15 240.90,532.63 240.90,534.80 C240.90,536.97 240.18,539.03 239.60,541.00 C239.02,542.97 238.13,546.60 237.40,546.60 C236.67,546.60 235.78,542.97 235.20,541.00 C234.62,539.03 233.90,536.97 233.90,534.80 C233.90,532.63 234.62,530.15 235.20,528.00 C235.78,525.85 236.67,521.90 237.40,521.90Z" fill="#c7cae8" stroke="#b1b6de" stroke-width="0.4"/>
<path d="M249.30,530.30 C249.63,530.30 250.13,529.97 250.30,531.00 C250.47,532.03 249.53,535.22 250.30,536.50 C251.07,537.78 253.70,537.95 254.90,538.70 C256.10,539.45 257.27,540.15 257.50,541.00 C257.73,541.85 257.67,543.23 256.30,543.80 C254.93,544.37 251.63,544.40 249.30,544.40 C246.97,544.40 243.67,544.37 242.30,543.80 C240.93,543.23 240.87,541.85 241.10,541.00 C241.33,540.15 242.50,539.45 243.70,538.70 C244.90,537.95 247.53,537.78 248.30,536.50 C249.07,535.22 248.13,532.03 248.30,531.00 C248.47,529.97 248.97,530.30 249.30,530.30Z" fill="#d6ecd0" stroke="#bfe0b6" stroke-width="0.4"/>
<path d="M265.40,540.00 C266.00,540.00 266.80,544.07 267.20,546.00 C267.60,547.93 267.73,549.27 267.80,551.60 C267.87,553.93 267.75,557.27 267.60,560.00 C267.45,562.73 267.27,565.67 266.90,568.00 C266.53,570.33 265.90,574.00 265.40,574.00 C264.90,574.00 264.27,570.33 263.90,568.00 C263.53,565.67 263.35,562.73 263.20,560.00 C263.05,557.27 262.93,553.93 263.00,551.60 C263.07,549.27 263.20,547.93 263.60,546.00 C264.00,544.07 264.80,540.00 265.40,540.00Z" fill="#f6c3bd" stroke="#eeaaa2" stroke-width="0.4"/>
<path d="M277.80,530.00 C278.33,530.00 279.03,536.67 279.40,540.00 C279.77,543.33 280.00,547.00 280.00,550.00 C280.00,553.00 279.77,555.50 279.40,558.00 C279.03,560.50 278.33,565.00 277.80,565.00 C277.27,565.00 276.57,560.50 276.20,558.00 C275.83,555.50 275.60,553.00 275.60,550.00 C275.60,547.00 275.83,543.33 276.20,540.00 C276.57,536.67 277.27,530.00 277.80,530.00Z" fill="#c7cae8" stroke="#b1b6de" stroke-width="0.4"/>
<path d="M290.10,547.20 C290.70,547.20 291.52,550.20 291.90,552.00 C292.28,553.80 292.40,556.00 292.40,558.00 C292.40,560.00 292.28,561.90 291.90,564.00 C291.52,566.10 290.70,570.60 290.10,570.60 C289.50,570.60 288.68,566.10 288.30,564.00 C287.92,561.90 287.80,560.00 287.80,558.00 C287.80,556.00 287.92,553.80 288.30,552.00 C288.68,550.20 289.50,547.20 290.10,547.20Z" fill="#d6ecd0" stroke="#bfe0b6" stroke-width="0.4"/>
<path d="M386.50,624.50 C387.00,624.50 387.53,626.92 388.00,628.00 C388.47,629.08 388.72,630.27 389.30,631.00 C389.88,631.73 390.83,632.02 391.50,632.40 C392.17,632.78 394.13,633.07 393.30,633.30 C392.47,633.53 388.77,633.80 386.50,633.80 C384.23,633.80 380.53,633.53 379.70,633.30 C378.87,633.07 380.83,632.78 381.50,632.40 C382.17,632.02 383.12,631.73 383.70,631.00 C384.28,630.27 384.53,629.08 385.00,628.00 C385.47,626.92 386.00,624.50 386.50,624.50Z" fill="#f6c3bd" fill-opacity="0.75"/>
<path d="M398.80,627.50 C399.33,627.50 399.83,629.25 400.40,630.00 C400.97,630.75 401.70,631.45 402.20,632.00 C402.70,632.55 403.97,633.00 403.40,633.30 C402.83,633.60 400.33,633.80 398.80,633.80 C397.27,633.80 394.77,633.60 394.20,633.30 C393.63,633.00 394.90,632.55 395.40,632.00 C395.90,631.45 396.63,630.75 397.20,630.00 C397.77,629.25 398.27,627.50 398.80,627.50Z" fill="#c7cae8" fill-opacity="0.75"/>
<line x1="63.30" y1="529.10" x2="63.30" y2="608.70" stroke="#664646" stroke-width="0.85"/>
<rect x="61.95" y="552.00" width="2.70" height="27.30" fill="#8b1520"/>
<line x1="75.70" y1="532.00" x2="75.70" y2="593.30" stroke="#4a4f63" stroke-width="0.85"/>
<rect x="74.35" y="554.90" width="2.70" height="25.10" fill="#142c5a"/>
<line x1="88.30" y1="561.30" x2="88.30" y2="604.00" stroke="#42553f" stroke-width="0.85"/>
<rect x="86.95" y="575.30" width="2.70" height="14.70" fill="#2d6a2a"/>
<line x1="103.70" y1="526.30" x2="103.70" y2="614.00" stroke="#664646" stroke-width="0.85"/>
<rect x="102.35" y="545.00" width="2.70" height="28.30" fill="#8b1520"/>
<line x1="116.10" y1="528.70" x2="116.10" y2="595.10" stroke="#4a4f63" stroke-width="0.85"/>
<rect x="114.75" y="542.50" width="2.70" height="23.80" fill="#142c5a"/>
<line x1="128.60" y1="560.70" x2="128.60" y2="592.30" stroke="#42553f" stroke-width="0.85"/>
<rect x="127.25" y="570.50" width="2.70" height="12.00" fill="#2d6a2a"/>
<line x1="144.40" y1="564.00" x2="144.40" y2="633.80" stroke="#664646" stroke-width="0.85"/>
<rect x="143.05" y="586.30" width="2.70" height="27.20" fill="#8b1520"/>
<line x1="156.50" y1="568.70" x2="156.50" y2="633.80" stroke="#4a4f63" stroke-width="0.85"/>
<rect x="155.15" y="582.20" width="2.70" height="29.50" fill="#142c5a"/>
<line x1="169.20" y1="613.30" x2="169.20" y2="633.20" stroke="#42553f" stroke-width="0.85"/>
<rect x="167.85" y="624.30" width="2.70" height="8.30" fill="#2d6a2a"/>
<line x1="184.50" y1="558.90" x2="184.50" y2="633.50" stroke="#664646" stroke-width="0.85"/>
<rect x="183.15" y="585.20" width="2.70" height="30.00" fill="#8b1520"/>
<line x1="197.10" y1="558.90" x2="197.10" y2="631.00" stroke="#4a4f63" stroke-width="0.85"/>
<rect x="195.75" y="587.70" width="2.70" height="21.80" fill="#142c5a"/>
<line x1="209.20" y1="593.00" x2="209.20" y2="605.70" stroke="#42553f" stroke-width="0.85"/>
<rect x="207.85" y="597.50" width="2.70" height="6.30" fill="#2d6a2a"/>
<circle cx="209.20" cy="572.80" r="0.75" fill="#9a9a9a"/>
<line x1="224.80" y1="514.90" x2="224.80" y2="563.50" stroke="#664646" stroke-width="0.85"/>
<rect x="223.45" y="529.20" width="2.70" height="15.20" fill="#8b1520"/>
<circle cx="224.80" cy="565.20" r="0.80" fill="#333"/>
<circle cx="224.80" cy="566.70" r="0.80" fill="#333"/>
<circle cx="224.80" cy="568.20" r="0.80" fill="#333"/>
<circle cx="224.80" cy="569.70" r="0.80" fill="#333"/>
<circle cx="224.80" cy="571.20" r="0.80" fill="#333"/>
<circle cx="224.80" cy="572.70" r="0.80" fill="#333"/>
<circle cx="224.80" cy="574.20" r="0.80" fill="#333"/>
<circle cx="224.80" cy="575.70" r="0.80" fill="#333"/>
<circle cx="224.80" cy="577.20" r="0.80" fill="#333"/>
<circle cx="224.80" cy="578.70" r="0.80" fill="#333"/>
<circle cx="224.80" cy="580.20" r="0.80" fill="#333"/>
<line x1="237.40" y1="517.40" x2="237.40" y2="561.20" stroke="#4a4f63" stroke-width="0.85"/>
<rect x="236.05" y="530.30" width="2.70" height="11.80" fill="#142c5a"/>
<circle cx="237.40" cy="563.00" r="0.80" fill="#333"/>
<circle cx="237.40" cy="566.00" r="0.80" fill="#333"/>
<circle cx="237.40" cy="570.20" r="0.80" fill="#333"/>
<line x1="249.30" y1="536.50" x2="249.30" y2="544.40" stroke="#42553f" stroke-width="0.85"/>
<rect x="247.95" y="539.30" width="2.70" height="5.10" fill="#2d6a2a"/>
<circle cx="249.30" cy="528.60" r="0.75" fill="#9a9a9a"/>
<line x1="265.40" y1="596.00" x2="265.40" y2="607.00" stroke="#b4b4b4" stroke-width="0.8"/>
<line x1="265.40" y1="527.00" x2="265.40" y2="596.00" stroke="#664646" stroke-width="0.85"/>
<rect x="264.05" y="555.10" width="2.70" height="16.70" fill="#8b1520"/>
<circle cx="265.40" cy="575.00" r="0.80" fill="#333"/>
<circle cx="265.40" cy="576.30" r="0.80" fill="#333"/>
<circle cx="265.40" cy="577.60" r="0.80" fill="#333"/>
<circle cx="265.40" cy="578.90" r="0.80" fill="#333"/>
<circle cx="265.40" cy="580.20" r="0.80" fill="#333"/>
<circle cx="265.40" cy="581.50" r="0.80" fill="#333"/>
<circle cx="265.40" cy="582.80" r="0.80" fill="#333"/>
<circle cx="265.40" cy="584.10" r="0.80" fill="#333"/>
<circle cx="265.40" cy="585.40" r="0.80" fill="#333"/>
<circle cx="265.40" cy="586.70" r="0.80" fill="#333"/>
<circle cx="265.40" cy="588.00" r="0.80" fill="#333"/>
<circle cx="265.40" cy="589.30" r="0.80" fill="#333"/>
<circle cx="265.40" cy="590.60" r="0.80" fill="#333"/>
<circle cx="265.40" cy="591.90" r="0.80" fill="#333"/>
<circle cx="265.40" cy="593.20" r="0.80" fill="#333"/>
<circle cx="265.40" cy="594.50" r="0.80" fill="#333"/>
<circle cx="265.40" cy="595.80" r="0.80" fill="#333"/>
<line x1="277.80" y1="528.20" x2="277.80" y2="579.40" stroke="#4a4f63" stroke-width="0.85"/>
<rect x="276.45" y="543.40" width="2.70" height="15.80" fill="#142c5a"/>
<circle cx="277.80" cy="589.50" r="0.80" fill="#333"/>
<line x1="290.10" y1="547.20" x2="290.10" y2="570.60" stroke="#42553f" stroke-width="0.85"/>
<rect x="288.75" y="553.50" width="2.70" height="11.40" fill="#2d6a2a"/>
<line x1="305.40" y1="525.60" x2="305.40" y2="615.20" stroke="#664646" stroke-width="0.85"/>
<rect x="304.05" y="554.00" width="2.70" height="25.70" fill="#8b1520"/>
<circle cx="305.40" cy="620.00" r="0.80" fill="#333"/>
<circle cx="305.40" cy="623.50" r="0.80" fill="#333"/>
<circle cx="305.40" cy="627.40" r="0.80" fill="#333"/>
<line x1="317.90" y1="532.50" x2="317.90" y2="609.90" stroke="#4a4f63" stroke-width="0.85"/>
<rect x="316.55" y="554.40" width="2.70" height="23.90" fill="#142c5a"/>
<line x1="330.10" y1="555.00" x2="330.10" y2="579.70" stroke="#42553f" stroke-width="0.85"/>
<rect x="328.75" y="562.00" width="2.70" height="13.10" fill="#2d6a2a"/>
<line x1="346.40" y1="560.30" x2="346.40" y2="633.50" stroke="#664646" stroke-width="0.85"/>
<rect x="345.05" y="581.90" width="2.70" height="27.70" fill="#8b1520"/>
<line x1="358.20" y1="558.60" x2="358.20" y2="633.50" stroke="#4a4f63" stroke-width="0.85"/>
<rect x="356.85" y="579.30" width="2.70" height="22.00" fill="#142c5a"/>
<line x1="370.70" y1="573.30" x2="370.70" y2="590.60" stroke="#42553f" stroke-width="0.85"/>
<rect x="369.35" y="577.60" width="2.70" height="6.10" fill="#2d6a2a"/>
<line x1="386.50" y1="605.20" x2="386.50" y2="633.00" stroke="#664646" stroke-width="0.85"/>
<rect x="385.15" y="626.30" width="2.70" height="7.20" fill="#8b1520"/>
<circle cx="386.50" cy="594.60" r="0.80" fill="#333"/>
<circle cx="386.50" cy="600.50" r="0.80" fill="#333"/>
<line x1="398.80" y1="615.30" x2="398.80" y2="628.00" stroke="#4a4f63" stroke-width="0.85"/>
<circle cx="398.80" cy="615.30" r="0.80" fill="#333"/>
<circle cx="398.80" cy="617.80" r="0.80" fill="#333"/>
<circle cx="398.80" cy="620.30" r="0.80" fill="#333"/>
<circle cx="398.80" cy="622.80" r="0.80" fill="#333"/>
<circle cx="398.80" cy="625.30" r="0.80" fill="#333"/>
<circle cx="398.80" cy="627.30" r="0.80" fill="#333"/>
<circle cx="411.30" cy="633.30" r="0.80" fill="#333"/>
<line x1="54.80" y1="499.00" x2="54.80" y2="639.85" stroke="#1a1a1a" stroke-width="1.0"/>
<line x1="54.30" y1="639.35" x2="421.80" y2="639.35" stroke="#1a1a1a" stroke-width="1.0"/>
<line x1="51.80" y1="633.40" x2="54.80" y2="633.40" stroke="#1a1a1a" stroke-width="0.9"/>
<text x="48.10" y="636.00" font-size="7.3" fill="#262626" text-anchor="end">0</text>
<line x1="51.80" y1="591.00" x2="54.80" y2="591.00" stroke="#1a1a1a" stroke-width="0.9"/>
<text x="48.10" y="593.60" font-size="7.3" fill="#262626" text-anchor="end">2</text>
<line x1="51.80" y1="548.60" x2="54.80" y2="548.60" stroke="#1a1a1a" stroke-width="0.9"/>
<text x="48.10" y="551.20" font-size="7.3" fill="#262626" text-anchor="end">4</text>
<line x1="51.80" y1="506.20" x2="54.80" y2="506.20" stroke="#1a1a1a" stroke-width="0.9"/>
<text x="48.10" y="508.80" font-size="7.3" fill="#262626" text-anchor="end">6</text>
<line x1="75.70" y1="639.35" x2="75.70" y2="642.15" stroke="#1a1a1a" stroke-width="0.9"/>
<text x="79.30" y="649.35" font-size="8.6" fill="#262626" text-anchor="end" transform="rotate(-45 79.30 649.35)">HLA-DQA1</text>
<line x1="116.10" y1="639.35" x2="116.10" y2="642.15" stroke="#1a1a1a" stroke-width="0.9"/>
<text x="119.70" y="649.35" font-size="8.6" fill="#262626" text-anchor="end" transform="rotate(-45 119.70 649.35)">HLA-DQB1</text>
<line x1="156.50" y1="639.35" x2="156.50" y2="642.15" stroke="#1a1a1a" stroke-width="0.9"/>
<text x="160.10" y="649.35" font-size="8.6" fill="#262626" text-anchor="end" transform="rotate(-45 160.10 649.35)">HLA-DQB1-AS1</text>
<line x1="196.90" y1="639.35" x2="196.90" y2="642.15" stroke="#1a1a1a" stroke-width="0.9"/>
<text x="200.50" y="649.35" font-size="8.6" fill="#262626" text-anchor="end" transform="rotate(-45 200.50 649.35)">HLA-DQB2</text>
<line x1="237.30" y1="639.35" x2="237.30" y2="642.15" stroke="#1a1a1a" stroke-width="0.9"/>
<text x="240.90" y="649.35" font-size="8.6" fill="#262626" text-anchor="end" transform="rotate(-45 240.90 649.35)">HLA-DRA</text>
<line x1="277.70" y1="639.35" x2="277.70" y2="642.15" stroke="#1a1a1a" stroke-width="0.9"/>
<text x="281.30" y="649.35" font-size="8.6" fill="#262626" text-anchor="end" transform="rotate(-45 281.30 649.35)">HLA-DRB1</text>
<line x1="318.10" y1="639.35" x2="318.10" y2="642.15" stroke="#1a1a1a" stroke-width="0.9"/>
<text x="321.70" y="649.35" font-size="8.6" fill="#262626" text-anchor="end" transform="rotate(-45 321.70 649.35)">HLA-DRB5</text>
<line x1="358.50" y1="639.35" x2="358.50" y2="642.15" stroke="#1a1a1a" stroke-width="0.9"/>
<text x="362.10" y="649.35" font-size="8.6" fill="#262626" text-anchor="end" transform="rotate(-45 362.10 649.35)">HLA-DRB6</text>
<line x1="398.90" y1="639.35" x2="398.90" y2="642.15" stroke="#1a1a1a" stroke-width="0.9"/>
<text x="402.50" y="649.35" font-size="8.6" fill="#262626" text-anchor="end" transform="rotate(-45 402.50 649.35)">HLA-DRB9</text>
<text x="36.80" y="568.70" font-size="9.2" fill="#262626" text-anchor="middle" textLength="68.50" lengthAdjust="spacingAndGlyphs" transform="rotate(-90 36.80 568.70)" stroke="#333" stroke-width="0.35">Normalized expression</text>
<text x="238.80" y="701.70" font-size="9.4" fill="#262626" text-anchor="middle" textLength="15.20" lengthAdjust="spacingAndGlyphs" stroke="#333" stroke-width="0.35">Gene</text>
<text x="421.30" y="547.50" font-size="7.6" fill="#262626" textLength="32.30" lengthAdjust="spacingAndGlyphs">Genotype</text>
<rect x="421.30" y="554.30" width="5.40" height="5.10" fill="#a3172b"/>
<text x="430.70" y="559.30" font-size="8.2" fill="#262626">GG</text>
<rect x="421.30" y="561.90" width="5.40" height="5.10" fill="#1b356f"/>
<text x="430.70" y="566.90" font-size="8.2" fill="#262626">GA</text>
<rect x="421.30" y="569.50" width="5.40" height="5.10" fill="#3b7c3a"/>
<text x="430.70" y="574.50" font-size="8.2" fill="#262626">AA</text>
<line x1="345.60" y1="554.50" x2="371.20" y2="554.50" stroke="#2a2a2a" stroke-width="1.0"/>
<text x="358.20" y="553.80" font-size="8.0" fill="#222" text-anchor="middle">*</text>
<rect x="0.5" y="0.5" width="519" height="711" fill="none" stroke="#505050" stroke-width="1"/>
</svg>
</body></html>
